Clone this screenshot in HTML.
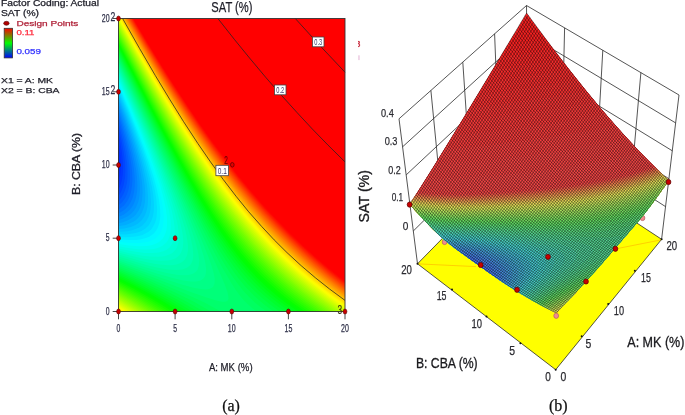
<!DOCTYPE html>
<html><head><meta charset="utf-8"><title>SAT (%) contour and 3D surface</title>
<style>
html,body{margin:0;padding:0;background:#fff;}
svg{display:block;}
text{font-family:"Liberation Sans",Arial,sans-serif;}
.ser{font-family:"Liberation Serif","Times New Roman",serif;}
</style></head><body>
<svg width="685" height="415" viewBox="0 0 685 415">
<rect width="685" height="415" fill="#fff"/>
<defs><linearGradient id="lg" x1="0" y1="0" x2="0" y2="1"><stop offset="0" stop-color="#ff0000"/><stop offset="0.5" stop-color="#00ff00"/><stop offset="1" stop-color="#0000ff"/></linearGradient></defs>

<text x="1.0" y="6.4" font-size="8.3" fill="#1e1e28" stroke="#1e1e28" stroke-width="0.25" textLength="98.0" lengthAdjust="spacingAndGlyphs">Factor Coding: Actual</text>
<text x="1.0" y="16.3" font-size="8.3" fill="#1e1e28" stroke="#1e1e28" stroke-width="0.25" textLength="38.0" lengthAdjust="spacingAndGlyphs">SAT (%)</text>
<ellipse cx="6.4" cy="23.3" rx="2.7" ry="2" fill="#b00000" stroke="#500" stroke-width="0.6"/>
<text x="16.4" y="25.8" font-size="8" fill="#b0243a" stroke="#b0243a" stroke-width="0.25" textLength="62.0" lengthAdjust="spacingAndGlyphs">Design Points</text>
<rect x="4.2" y="28.3" width="8.4" height="29.6" fill="url(#lg)" stroke="#333" stroke-width="0.8"/>
<text x="16.4" y="35.1" font-size="8" fill="#ff2a3c" stroke="#ff2a3c" stroke-width="0.25" textLength="18.0" lengthAdjust="spacingAndGlyphs">0.11</text>
<text x="16.4" y="54.4" font-size="8" fill="#3030ff" stroke="#3030ff" stroke-width="0.25" textLength="24.5" lengthAdjust="spacingAndGlyphs">0.059</text>
<text x="1.0" y="83.0" font-size="8" fill="#1e1e28" stroke="#1e1e28" stroke-width="0.25" textLength="52.0" lengthAdjust="spacingAndGlyphs">X1 = A: MK</text>
<text x="1.0" y="92.6" font-size="8" fill="#1e1e28" stroke="#1e1e28" stroke-width="0.25" textLength="58.5" lengthAdjust="spacingAndGlyphs">X2 = B: CBA</text>
<text x="211.3" y="12.3" font-size="14.5" fill="#1e1e28" stroke="#1e1e28" stroke-width="0.25" textLength="41.2" lengthAdjust="spacingAndGlyphs">SAT (%)</text>
<rect x="118.5" y="18.5" width="226.5" height="293.0" fill="#ff0000"/>
<path d="M118.5,311.5 345,311.5 345,281.1 330.8,269.8 316.7,257.8 302.5,245 289.8,232.7 277.1,219.8 264.3,206 251.6,191.4 238.8,176 226.1,159.7 213.3,142.6 200.6,124.7 187.9,106 175.1,86.5 162.4,66.4 148.2,43.4 133.4,18.5 118.5,18.5 118.5,311.5Z" fill="#ff0600"/>
<path d="M118.5,311.5 345,311.5 345,282.2 330.8,271 316.7,259 302.5,246.3 289.8,234.1 277.1,221.1 264.3,207.4 251.6,192.8 238.8,177.4 226.1,161.1 213.3,144 200.6,126 187.9,107.3 173.7,85.6 161,65.4 146.8,42.2 132.7,18.5 118.5,18.5 118.5,311.5Z" fill="#ff1300"/>
<path d="M118.5,311.5 345,311.5 345,283.4 330.8,272.2 316.7,260.3 302.5,247.6 289.8,235.4 277.1,222.5 264.3,208.8 251.6,194.2 238.8,178.8 226.1,162.5 213.3,145.3 200.6,127.4 187.9,108.6 175.1,89.1 161,66.7 146.8,43.5 132,18.5 118.5,18.5 118.5,311.5Z" fill="#ff2000"/>
<path d="M118.5,311.5 345,311.5 345,284.6 330.8,273.4 316.7,261.5 302.5,248.9 289.8,236.8 277.1,223.9 264.3,210.2 251.6,195.6 238.8,180.2 226.1,163.9 213.3,146.7 200.6,128.8 187.9,110 173.7,88.2 159.6,65.6 146.8,44.7 131.4,18.5 118.5,18.5 118.5,311.5Z" fill="#ff2d00"/>
<path d="M118.5,311.5 345,311.5 345,285.8 330.8,274.7 316.7,262.8 302.5,250.2 289.8,238.1 277.1,225.3 264.3,211.6 251.6,197 238.8,181.6 226.1,165.3 213.3,148.2 200.6,130.1 187.9,111.3 173.7,89.5 161,69.2 145.4,43.5 130.7,18.5 118.5,18.5 118.5,311.5Z" fill="#ff3900"/>
<path d="M118.5,311.5 345,311.5 345,287 330.8,275.9 316.7,264.1 302.5,251.6 289.8,239.5 277.1,226.7 264.3,213 251.6,198.5 238.8,183.1 226.1,166.8 213.3,149.6 200.6,131.5 187.9,112.7 175.1,93.1 161,70.5 145.4,44.8 130,18.5 118.5,18.5 118.5,311.5Z" fill="#ff4600"/>
<path d="M118.5,311.5 345,311.5 345,288.2 329.4,276 315.3,264.2 301.1,251.6 288.4,239.5 275.6,226.6 262.9,212.9 250.2,198.3 237.4,182.8 224.7,166.4 211.9,149.1 199.2,130.9 186.4,111.9 172.3,90 158.1,67.2 144,43.6 129.3,18.5 118.5,18.5 118.5,311.5Z" fill="#ff5300"/>
<path d="M118.5,311.5 345,311.5 345,289.4 329.4,277.3 315.3,265.5 302.5,254.3 288.4,240.9 275.6,228.1 262.9,214.4 250.2,199.8 237.4,184.3 224.7,167.8 211.9,150.5 199.2,132.3 186.4,113.3 172.3,91.3 158.1,68.5 144,44.8 128.6,18.5 118.5,18.5 118.5,311.5Z" fill="#ff6000"/>
<path d="M118.5,311.5 345,311.5 345,290.6 330.8,279.7 315.3,266.9 301.1,254.4 288.4,242.3 275.6,229.5 262.9,215.8 250.2,201.3 237.4,185.8 224.7,169.3 211.9,152 199.2,133.8 186.4,114.7 172.3,92.7 158.1,69.8 142.6,43.7 128,18.5 118.5,18.5 118.5,311.5Z" fill="#ff6c00"/>
<path d="M118.5,311.5 345,311.5 345,291.9 326.6,277.6 311,264.6 295.5,250.6 279.9,235.4 264.3,218.9 250.2,202.8 236,185.5 221.8,167.1 211.9,153.5 200.6,137.3 189.3,120.5 178,103 166.6,85 153.9,64 127.3,18.5 118.5,18.5 118.5,311.5Z" fill="#ff7900"/>
<path d="M118.5,311.5 345,311.5 345,293.1 328,280.1 311,266 295.5,252 279.9,236.8 264.3,220.4 250.2,204.3 236,187 221.8,168.6 210.5,153 199.2,136.7 187.9,119.8 176.5,102.2 165.2,84 152.5,63 126.6,18.5 118.5,18.5 118.5,311.5Z" fill="#ff8600"/>
<path d="M118.5,311.5 345,311.5 345,294.4 328,281.4 312.4,268.6 296.9,254.8 281.3,239.8 267.1,225 251.6,207.5 237.4,190.4 223.3,172 211.9,156.5 200.6,140.3 189.3,123.4 178,105.8 166.6,87.7 153.9,66.7 141.2,45.1 125.9,18.5 118.5,18.5 118.5,311.5Z" fill="#ff9300"/>
<path d="M118.5,311.5 345,311.5 345,295.6 328,282.7 311,268.8 295.5,254.9 281.3,241.3 267.1,226.6 253,210.7 238.8,193.7 224.7,175.5 213.3,160 202,143.9 190.7,127 178,107.3 165.2,86.8 152.5,65.7 125.2,18.5 118.5,18.5 118.5,311.5Z" fill="#ff9f00"/>
<path d="M118.5,311.5 345,311.5 345,296.9 326.6,283 311,270.2 296.9,257.7 281.3,242.8 267.1,228.2 253,212.3 238.8,195.3 224.7,177.1 213.3,161.6 202,145.4 190.7,128.5 178,108.7 165.2,88.2 152.5,67 138.3,42.8 124.5,18.5 118.5,18.5 118.5,311.5Z" fill="#ffac00"/>
<path d="M118.5,311.5 345,311.5 345,298.2 328,285.5 311,271.7 295.5,257.9 281.3,244.4 267.1,229.8 253,214 240.2,198.7 226.1,180.6 214.8,165.2 203.4,149 192.1,132.2 179.4,112.4 166.6,91.9 152.5,68.4 138.3,44.1 123.8,18.5 118.5,18.5 118.5,311.5Z" fill="#ffb900"/>
<path d="M118.5,311.5 345,311.5 345,299.5 328,286.8 312.4,274.3 296.9,260.7 282.7,247.3 268.6,232.9 254.4,217.2 240.2,200.3 227.5,184.1 216.2,168.8 203.4,150.6 190.7,131.6 179.4,113.9 165.2,91.1 152.5,69.7 138.3,45.4 123.1,18.5 118.5,18.5 118.5,311.5Z" fill="#ffc600"/>
<path d="M118.5,311.5 345,311.5 345,300.8 328,288.2 312.4,275.8 296.9,262.3 282.7,248.9 268.6,234.5 254.4,218.9 240.2,202 227.5,185.7 214.8,168.4 203.4,152.2 190.7,133.1 178,113.2 165.2,92.5 151.1,68.7 138.3,46.7 122.4,18.5 118.5,18.5 118.5,311.5Z" fill="#ffd200"/>
<path d="M118.7,311.5 345,311.5 345,302.1 328,289.6 312.4,277.3 298.3,265.1 282.7,250.6 270,237.7 255.8,222.2 241.7,205.5 228.9,189.3 216.2,172.1 204.9,155.9 192.1,136.9 179.4,117 166.6,96.3 152.5,72.5 136.9,45.5 121.7,18.5 118.5,18.5 118.5,311.4 118.7,311.5Z" fill="#ffdf00"/>
<path d="M118.5,309.7 118.5,310.1 120.6,311.5 345,311.5 345,303.5 328,291.1 312.4,278.8 296.9,265.4 282.7,252.2 268.6,237.9 255.8,223.9 241.7,207.2 228.9,191 217.6,175.7 204.9,157.6 192.1,138.5 179.4,118.5 166.6,97.8 152.5,74 136.9,46.9 121,18.5 118.5,18.5 118.5,309.7Z" fill="#ffec00"/>
<path d="M119.7,309.7 122.5,311.5 345,311.5 345,304.8 329.4,293.6 313.9,281.4 299.7,269.5 287,257.9 274.2,245.4 261.5,232 248.7,217.5 236,201.9 224.7,187.1 211.9,169.5 200.6,153 187.9,133.6 172.3,108.7 155.3,80.2 138.3,50.7 120.3,18.5 118.5,18.5 118.5,308.9 119.7,309.7Z" fill="#fff900"/>
<path d="M121.7,309.7 124.5,311.5 345,311.5 345,306.2 328,294 313.9,283 301.1,272.4 287,259.6 274.2,247.2 261.5,233.7 248.7,219.2 236,203.7 224.7,188.9 211.9,171.2 199.2,152.6 186.4,133 170.9,107.9 155.3,81.7 138.3,52.1 119.6,18.5 118.5,18.5 118.5,307.6 121.7,309.7Z" fill="#f9ff00"/>
<path d="M123.7,309.7 126.5,311.5 345,311.5 345,307.6 329.4,296.5 313.9,284.5 299.7,272.8 285.5,260 272.8,247.5 260.1,234 247.3,219.4 234.6,203.7 221.8,186.8 209.1,168.9 196.4,150 182.2,127.9 169.5,107.1 155.3,83.2 136.9,51 118.9,18.5 118.5,18.5 118.5,306.3 123.7,309.7Z" fill="#ecff00"/>
<path d="M125.7,309.7 128.5,311.5 345,311.5 345,309 329.4,298 313.9,286.1 299.7,274.4 285.5,261.7 272.8,249.3 260.1,235.8 247.3,221.2 234.6,205.5 221.8,188.7 209.1,170.7 196.4,151.7 182.2,129.6 166.6,104 152.5,79.8 136.9,52.4 118.5,19 118.5,305 125.7,309.7Z" fill="#dfff00"/>
<path d="M127.8,309.7 130.6,311.5 345,311.5 345,310.4 328,298.5 312.4,286.6 299.7,276.1 285.5,263.4 272.8,251.1 260.1,237.6 247.3,223.1 234.6,207.4 221.8,190.5 209.1,172.5 196.4,153.5 182.2,131.2 168,107.9 152.5,81.3 136.9,53.8 118.5,20.3 118.5,303.7 127.8,309.7Z" fill="#d2ff00"/>
<path d="M129.9,309.7 132.7,311.5 344.6,311.5 328,300 312.4,288.2 299.7,277.8 285.5,265.2 272.8,252.9 260.1,239.5 247.3,225 234.6,209.3 221.8,192.4 209.1,174.4 196.4,155.3 182.2,132.9 168,109.6 152.5,82.8 135.5,52.7 118.5,21.6 118.5,302.4 129.9,309.7Z" fill="#c6ff00"/>
<path d="M132.1,309.7 134.9,311.5 342.4,311.5 325.2,299.5 311,288.8 296.9,277.1 282.7,264.4 270,251.9 257.2,238.3 245.9,225.3 233.2,209.4 221.8,194.3 209.1,176.3 196.4,157.1 182.2,134.7 168,111.2 152.5,84.4 135.5,54.1 118.5,23 118.5,301.1 132.1,309.7Z" fill="#b9ff00"/>
<path d="M134.3,309.7 137.1,311.5 340.2,311.5 323.8,300 309.6,289.3 295.5,277.7 282.7,266.3 270,253.9 257.2,240.3 244.5,225.6 233.2,211.4 221.8,196.3 209.1,178.2 196.4,159 182.2,136.4 168,112.9 152.5,85.9 136.9,58.1 118.5,24.3 118.5,299.7 134.3,309.7Z" fill="#acff00"/>
<path d="M136.6,309.7 139.4,311.5 337.9,311.5 322.4,300.6 308.2,290 294,278.3 281.3,266.9 268.6,254.4 255.8,240.8 243.1,225.9 231.8,211.6 220.4,196.4 207.7,178.1 194.9,158.7 180.8,135.9 168,114.6 152.5,87.5 136.9,59.6 118.5,25.7 118.5,298.4 136.6,309.7Z" fill="#9fff00"/>
<path d="M138.9,309.7 141.7,311.5 335.6,311.5 320.9,301.3 306.8,290.6 292.6,279 279.9,267.5 267.1,255 255.8,242.8 243.1,228 231.8,213.7 220.4,198.4 207.7,180.1 194.9,160.6 182.2,140.1 168,116.3 152.5,89.1 136.9,61.1 118.5,27 118.5,297 138.9,309.7Z" fill="#93ff00"/>
<path d="M141.3,309.7 144.1,311.5 333.2,311.5 318.1,300.9 303.9,290.2 291.2,279.7 278.5,268.2 265.7,255.6 254.4,243.4 243.1,230.1 230.3,214 219,198.5 206.3,180 193.5,160.3 180.8,139.6 168,118.1 152.5,90.7 135.5,60 118.5,28.4 118.5,295.6 141.3,309.7Z" fill="#86ff00"/>
<path d="M143.7,309.7 146.5,311.5 330.8,311.5 316.7,301.7 302.5,290.9 288.4,279.2 277.1,268.9 264.3,256.3 253,244 241.7,230.6 230.3,216.2 219,200.7 206.3,182.1 193.5,162.3 180.8,141.5 168,119.8 152.5,92.4 135.5,61.5 118.5,29.8 118.5,294.2 131.2,301.8 143.7,309.7Z" fill="#79ff00"/>
<path d="M146.2,309.7 149,311.5 328.3,311.5 313.9,301.4 299.7,290.6 287,280 274.2,268.3 262.9,257 251.6,244.6 240.2,231.1 228.9,216.5 217.6,200.9 206.3,184.2 193.5,164.3 180.8,143.4 168,121.6 152.5,94.1 135.5,63 118.5,31.2 118.5,292.8 132.7,301.2 146.2,309.7Z" fill="#6cff00"/>
<path d="M148.7,309.7 151.6,311.5 325.8,311.5 311,301.2 298.3,291.5 285.5,280.9 274.2,270.5 262.9,259.2 251.6,246.9 240.2,233.5 228.9,218.9 217.6,203.1 206.3,186.4 193.5,166.4 180.8,145.4 168,123.5 152.5,95.8 136.9,67.2 118.5,32.7 118.5,291.4 135.5,301.4 148.7,309.7Z" fill="#60ff00"/>
<path d="M151.4,309.7 154.2,311.5 323.1,311.5 308.2,301 295.5,291.3 282.7,280.5 271.4,270.1 260.1,258.6 248.7,246 238.8,234.1 227.5,219.3 216.2,203.4 204.9,186.4 193.5,168.5 180.8,147.4 168,125.4 152.5,97.5 136.9,68.8 118.5,34.1 118.5,290 135.5,299.8 151.4,309.7Z" fill="#53ff00"/>
<path d="M154.1,309.7 156.9,311.5 320.4,311.5 306.8,302 294,292.2 281.3,281.5 270,271 258.6,259.5 247.3,246.8 236,233 226.1,219.8 214.8,203.7 203.4,186.5 192.1,168.4 179.4,147 165.2,122.3 151.1,96.7 135.5,67.8 118.5,35.6 118.5,288.5 136.9,299 154.1,309.7Z" fill="#46ff00"/>
<path d="M156.9,309.7 159.8,311.5 317.6,311.5 303.9,302 291.2,292.2 279.9,282.6 268.6,272.1 257.2,260.5 247.3,249.4 237.4,237.3 226.1,222.3 216.2,208.2 204.9,191.1 193.5,172.9 179.4,149.1 165.2,124.2 151.1,98.5 135.5,69.4 118.5,37 118.5,287 138.3,298.2 156.9,309.7Z" fill="#39ff00"/>
<path d="M159.9,309.7 162.7,311.5 314.6,311.5 301.1,302 288.4,292.2 277.1,282.5 265.7,271.9 255.8,261.6 244.5,248.7 234.6,236.3 224.7,223 214.8,208.7 203.4,191.3 192.1,172.9 179.4,151.2 165.2,126.2 151.1,100.3 118.5,38.5 118.5,285.5 139.7,297.4 159.9,309.7Z" fill="#2dff00"/>
<path d="M162.9,309.7 165.7,311.5 311.6,311.5 299.7,303.2 287,293.4 275.6,283.8 265.7,274.5 254.4,262.8 244.5,251.4 234.6,239.1 224.7,225.7 214.8,211.3 203.4,193.8 192.1,175.3 179.4,153.4 166.6,130.7 151.1,102.1 118.5,40 118.5,284 142.6,297.3 162.9,309.7Z" fill="#20ff00"/>
<path d="M166.1,309.7 168.9,311.5 308.4,311.5 296.9,303.4 284.1,293.6 274.2,285.1 262.9,274.4 253,264.1 243.1,252.6 233.2,240.1 223.3,226.5 213.3,211.9 202,194.1 190.7,175.3 179.4,155.7 166.6,132.8 151.1,104 118.5,41.6 118.5,282.5 144,296.3 155.3,303 166.1,309.7Z" fill="#13ff00"/>
<path d="M169.4,309.7 172.2,311.5 305.1,311.5 292.6,302.7 281.3,293.9 271.4,285.3 261.5,275.9 251.6,265.5 241.7,253.9 233.2,243.1 223.3,229.4 213.3,214.7 202,196.8 192.1,180.2 179.4,158 166.6,134.9 152.5,108.5 118.5,43.1 118.5,280.9 132.7,288.3 146.8,296.1 159.6,303.5 169.4,309.7Z" fill="#06ff00"/>
<path d="M172.9,309.7 175.8,311.5 301.6,311.5 289.8,303.2 278.5,294.3 268.6,285.7 258.6,276.1 250.2,267 240.2,255.3 231.8,244.4 221.8,230.5 211.9,215.5 202,199.5 190.7,180.4 179.4,160.4 166.6,137.1 152.5,110.5 118.5,44.7 118.5,279.4 135.5,288.1 149.6,295.8 162.4,303.1 172.9,309.7Z" fill="#00ff06"/>
<path d="M176.6,309.7 179.5,311.5 297.8,311.5 287,303.8 277.1,296.1 267.1,287.5 257.2,277.9 248.7,268.8 240.2,258.7 231.8,247.7 221.8,233.7 211.9,218.5 202,202.4 190.7,183 179.4,162.8 165.2,136.7 152.5,112.5 118.5,46.3 118.5,277.8 135.5,286.3 151.1,294.6 163.8,301.8 176.6,309.7Z" fill="#00ff13"/>
<path d="M180.6,309.7 183.4,311.5 293.9,311.5 282.7,303.6 272.8,295.7 262.9,286.9 254.4,278.5 245.9,269.1 237.4,258.7 228.9,247.3 220.4,235 210.5,219.5 200.6,203.1 190.7,185.8 179.4,165.4 152.5,114.6 118.5,47.9 118.5,276.1 136.9,285.2 153.9,294.1 168,302 180.6,309.7Z" fill="#00ff20"/>
<path d="M184.9,309.7 187.7,311.5 289.6,311.5 279.9,304.6 270,296.7 261.5,289.2 253,280.8 244.5,271.3 237.4,262.6 228.9,251.1 220.4,238.6 211.9,225.2 202,208.7 192.1,191.3 179.4,168 152.5,116.7 118.5,49.5 118.5,274.5 136.9,283.3 155.3,292.7 170.9,301.2 184.9,309.7Z" fill="#00ff2d"/>
<path d="M189.5,309.7 192.4,311.5 284.9,311.5 275.6,304.9 267.1,298.1 258.6,290.5 250.2,281.9 241.7,272.1 234.6,263.1 227.5,253.2 219,240.4 210.5,226.6 202,212.1 190.7,191.8 180.8,173.4 153.9,121.6 118.5,51.2 118.5,272.8 141.2,283.5 159.6,292.7 175.1,301.1 189.5,309.7Z" fill="#00ff39"/>
<path d="M194.7,309.7 197.6,311.5 279.7,311.5 270,304.4 261.5,297.4 254.4,290.8 247.3,283.4 240.2,275.1 233.2,265.8 226.1,255.6 219,244.6 210.5,230.5 202,215.7 182.2,179 153.9,123.8 118.5,52.9 118.5,271.2 144,282.8 163.8,292.4 180.8,301.4 194.7,309.7Z" fill="#00ff46"/>
<path d="M200.6,309.7 203.5,311.5 273.8,311.5 265.7,305.7 258.6,299.8 253,294.6 245.9,287.2 238.8,278.7 233.2,271.1 226.1,260.7 219,249.4 211.9,237.4 203.4,222.2 182.2,182.1 155.3,129 118.5,54.6 118.5,269.4 145.4,281.3 168,292 186.4,301.4 200.6,309.7Z" fill="#00ff53"/>
<path d="M207.8,309.7 210.7,311.5 266.6,311.5 260.1,306.7 254.4,302 248.7,296.6 243.1,290.4 237.4,283.3 231.8,275.4 226.1,266.7 219,254.9 211.9,242.3 203.4,226.6 183.6,188.1 155.3,131.4 118.5,56.3 118.5,267.7 151.1,281.6 175.1,292.5 193.5,301.6 207.8,309.7Z" fill="#00ff60"/>
<path d="M217.6,309.7 220.6,311.5 256.7,311.5 253,308.7 248.7,305.1 244.5,300.9 240.2,295.9 236,290.2 231.8,283.8 221.8,266.7 209.1,242.6 190.7,206 163.8,151.3 118.5,58.1 118.5,265.9 159.6,282.8 186.4,294.3 204.9,302.8 217.6,309.7Z" fill="#00ff6c"/>
<path d="M216.3,300.5 221.8,301.7 224.7,301.8 226.1,301.6 227.8,300.5 228.5,298.7 228.2,295 227.3,291.4 224.6,284 215.9,263.9 200.5,230.9 118.5,59.9 118.5,264.1 189.3,291.4 204.9,296.9 216.3,300.5Z" fill="#00ff79"/>
<path d="M193.4,287.7 200.6,289 206.3,289.4 209.1,289 210.5,288.5 212.1,287.7 213.3,286.4 214.4,284 214.7,282.2 214.7,278.5 213.7,273 211.6,265.7 207.6,254.7 203.2,243.7 187.9,208.9 162.3,154 118.5,61.8 118.5,262.3 142.6,271.2 163.8,278.7 180.8,284.3 193.4,287.7Z" fill="#00ff86"/>
<path d="M182.9,280.4 190.7,281.4 196.4,281.4 200.6,280.4 202,279.6 203.4,278.5 204.7,276.7 205.5,274.9 205.9,273 206.1,269.4 205.8,265.7 205.2,262.1 203.3,254.7 199.7,243.7 194.8,230.9 188,214.4 179.2,194.3 155,141.2 118.5,63.6 118.5,260.4 138.8,267.6 156.7,273.4 170.9,277.6 182.9,280.4Z" fill="#00ff93"/>
<path d="M177.7,274.9 185,275.3 187.9,275.1 190.7,274.5 193.5,273.4 194.9,272.5 196.4,271.2 197.6,269.4 198.8,265.7 199.2,260.2 198.2,252.9 196,243.7 192.5,232.8 187.8,219.9 181.2,203.5 173.3,185.1 151.2,135.7 118.5,65.5 118.5,258.5 139.7,265.5 153.9,269.7 166.6,272.9 177.7,274.9Z" fill="#00ff9f"/>
<path d="M168,269.4 176.5,269.9 182.3,269.4 185,268.6 187.3,267.6 189.3,266 190.7,264.4 192,262.1 192.6,260.2 193,258.4 193.3,254.7 192.7,247.4 190.8,238.2 187.6,227.3 183.2,214.4 176.8,198 169.2,179.7 148.2,132 118.5,67.5 118.5,256.6 135.5,261.8 148.2,265.4 158.1,267.7 168,269.4Z" fill="#00ffac"/>
<path d="M155.4,263.9 165.2,265.1 169.5,265.2 173.7,264.9 176.5,264.4 179.4,263.5 182.1,262.1 183.6,260.8 185,259.2 186.5,256.6 187.2,254.7 187.9,251.1 188,247.4 187.8,243.7 186.7,236.4 184.6,227.3 180.6,214.4 175.4,199.8 168.2,181.5 159.8,161.3 148.6,135.7 118.5,69.5 118.5,254.6 138.3,260.2 146.8,262.2 155.4,263.9Z" fill="#00ffb9"/>
<path d="M153,260.2 161,260.8 168,260.5 170.9,260 173.7,259.1 175.2,258.4 178,256.6 179.7,254.7 180.9,252.9 182.2,249.8 182.8,247.4 183.2,243.7 183.2,240.1 182.9,236.4 182.1,230.9 179.6,219.9 176.3,208.9 171.2,194.3 164.2,176 155.9,155.8 145.7,132 118.5,71.5 118.5,252.6 138.3,257.6 145.4,259 153,260.2Z" fill="#00ffc6"/>
<path d="M149.8,256.6 158.1,256.8 162.4,256.5 165.2,256 168,255.1 170.9,253.8 172.3,252.9 174.3,251.1 175.8,249.2 176.8,247.4 178,244.1 178.4,241.9 178.8,238.2 178.8,234.6 177.8,225.4 175.3,214.4 172.2,203.5 167.2,188.8 161,172.3 153.7,154 143.6,130.2 118.5,73.6 118.5,250.5 128.4,252.9 136.9,254.7 144,255.9 149.8,256.6Z" fill="#00ffd2"/>
<path d="M144.8,252.9 152.5,253.1 156.7,252.8 159.6,252.3 162.4,251.6 165.2,250.4 167.3,249.2 169.5,247.4 171.1,245.6 172.3,243.5 173.6,240.1 174.1,238.2 174.6,234.6 174.7,230.9 174.6,227.3 173.9,221.8 172.2,212.6 168.7,199.8 163.9,185.1 157.9,168.7 150.7,150.3 141.6,128.4 118.5,75.7 118.5,248.4 132.7,251.3 144.8,252.9Z" fill="#00ffdf"/>
<path d="M137.5,249.2 146.8,249.6 153.9,249 156.7,248.3 159.6,247.3 162.9,245.6 165.1,243.7 166.8,241.9 168,239.9 169.5,236.6 170,234.6 170.6,230.9 170.8,227.3 170.5,219.9 169,210.8 165.9,198 162,185.1 156.2,168.7 149.2,150.3 141.1,130.2 131,106.4 118.5,77.9 118.5,246.2 128.4,248.1 137.5,249.2Z" fill="#00ffec"/>
<path d="M129.1,245.6 138.3,246.3 146.8,246 151.1,245.2 153.9,244.4 156.7,243.2 159,241.9 161.2,240.1 162.8,238.2 164,236.4 165.7,232.8 166.6,229.1 167,225.4 167,218.1 165.9,208.9 163.5,198 160,185.1 154.5,168.7 147.7,150.3 139.8,130.2 129.9,106.4 118.5,80.1 118.5,244 129.1,245.6Z" fill="#00fff9"/>
<path d="M120.2,241.9 131.2,243 139.7,243 144,242.6 147.3,241.9 151.1,240.7 153.9,239.3 155.5,238.2 158.1,235.9 159.6,234.1 161.3,230.9 162.6,227.3 163.3,223.6 163.7,216.3 162.8,207.1 160.7,196.1 157.4,183.3 152.8,168.7 146.2,150.3 138.5,130.2 129.5,108.2 118.5,82.4 118.5,241.7 120.2,241.9Z" fill="#00f9ff"/>
<path d="M128.4,240.1 136.9,239.9 141.2,239.3 144,238.6 146.8,237.7 149.6,236.4 152.4,234.6 153.9,233.2 155.9,230.9 157,229.1 158.1,226.8 159.2,223.6 159.9,219.9 160.3,216.3 160.1,208.9 159,199.8 156.7,188.8 153.8,177.8 149.2,163.2 143.4,146.7 136.4,128.4 128.3,108.2 118.5,84.8 118.5,239.3 128.4,240.1Z" fill="#00ecff"/>
<path d="M118.5,236.4 118.5,236.9 125.6,237.2 131.2,237.1 135.5,236.6 139.7,235.8 142.6,234.9 145.4,233.6 148.2,231.9 151.1,229.4 152.5,227.6 154.7,223.6 156,219.9 156.7,216.3 157.1,208.9 156.4,199.8 154.9,190.6 152.3,179.7 148.1,165 142.6,148.5 135.8,130.2 127.9,110.1 118.5,87.2 118.5,236.4Z" fill="#00dfff"/>
<path d="M118.5,232.8 118.5,234.3 125.6,234.4 132.7,233.6 136.6,232.8 139.7,231.7 142.6,230.3 145.4,228.5 148.5,225.4 149.8,223.6 151.7,219.9 152.9,216.3 153.6,212.6 154,205.3 153.4,196.1 151.9,187 149.4,176 145.2,161.3 140.4,146.7 134.5,130.2 126.7,110.1 118.5,89.7 118.5,232.8Z" fill="#00d2ff"/>
<path d="M118.5,230.9 118.5,231.7 121.3,231.7 127,231.2 131.2,230.4 136.9,228.6 139.7,227.2 142.6,225.2 145.8,221.8 147,219.9 148.8,216.3 149.9,212.6 150.6,208.9 151,201.6 150.4,192.5 149,183.3 146.5,172.3 142.9,159.5 138.3,144.9 133.1,130.2 127,113.7 118.5,92.3 118.5,230.9Z" fill="#00c6ff"/>
<path d="M118.5,227.3 118.5,229 124.2,228.5 129.8,227.2 132.7,226.3 135.5,225 138.3,223.2 141.2,220.7 143.3,218.1 144.4,216.3 145.4,214.3 146.6,210.8 147.7,205.3 148.1,198 147.5,188.8 146.1,179.7 143.7,168.7 140.7,157.7 136.8,144.9 131.8,130.2 125.7,113.7 118.5,95.1 118.5,227.3Z" fill="#00b9ff"/>
<path d="M118.5,225.4 118.5,226.2 121.3,225.8 125.6,224.9 129.5,223.6 134.1,221.3 136,219.9 138.3,217.8 139.7,216.1 141.9,212.6 144,207.1 145,201.6 145.3,194.3 144.9,187 143.6,177.8 141.4,166.8 138.5,155.8 134.7,143 130.4,130.2 125.2,115.6 118.5,97.9 118.5,225.4Z" fill="#00acff"/>
<path d="M118.5,221.8 118.5,223.2 122.7,222.3 127,220.8 131.9,218.1 134.1,216.3 135.9,214.4 138.5,210.8 139.7,208.3 140.9,205.3 142.1,199.8 142.6,192.5 142.3,185.1 141.2,176 139.5,166.8 136.8,155.8 133.7,144.9 129.6,132 124.6,117.4 118.5,100.8 118.5,221.8Z" fill="#009fff"/>
<path d="M118.5,219.9 118.5,220.1 119.1,219.9 122.7,218.8 127.8,216.3 131.2,213.7 134.1,210.6 136.2,207.1 138.4,201.6 139.5,196.1 140,188.8 139.7,181.5 138.5,172.3 136.8,163.2 134.6,154 131.6,143 128.2,132 124,119.2 118.5,104 118.5,219.9Z" fill="#0093ff"/>
<path d="M118.5,216.3 118.5,216.8 121.3,215.7 124.2,214.3 126.7,212.6 129.8,209.8 132.7,206 134.8,201.6 136.4,196.1 137.2,190.6 137.4,185.1 137,177.8 136.2,170.5 134.9,163.2 132.9,154 130.1,143 126.8,132 118.5,107.2 118.5,216.3Z" fill="#0086ff"/>
<path d="M118.5,212.6 118.5,213.3 120,212.6 122.7,211 125.4,208.9 128.8,205.3 131,201.6 132.7,197.7 134,192.5 134.7,187 134.9,181.5 134.6,176 133.9,168.7 132.7,161.3 130.8,152.2 125.9,133.9 118.5,110.7 118.5,212.6Z" fill="#0079ff"/>
<path d="M118.5,208.9 118.5,209.5 119.9,208.7 122,207.1 124.2,205.2 127,201.6 129,198 130.4,194.3 131.3,190.6 132.1,185.1 132.4,179.7 132.3,174.2 131.6,166.8 130.5,159.5 129,152.2 126.9,143 124.4,133.9 118.5,114.5 118.5,208.9Z" fill="#006cff"/>
<path d="M118.5,205.3 119.9,204.3 122.7,201.5 125.2,198 127,194.3 128.4,190 129.4,185.1 129.8,181.5 130,176 129.8,170.5 129.3,165 127.3,152.2 123.9,137.5 118.5,118.6 118.5,205.3Z" fill="#0060ff"/>
<path d="M118.5,199.8 118.5,201 121.3,197.7 123.4,194.3 125,190.6 126.1,187 126.9,183.3 127.4,179.7 127.6,174.2 127.5,168.7 127.1,163.2 125.5,152.2 122.8,139.4 118.5,123.1 118.5,199.8Z" fill="#0053ff"/>
<path d="M118.5,194.3 118.5,195.9 120.7,192.5 122.4,188.8 123.6,185.1 125,177.8 125.3,170.5 124.9,161.3 123.7,152.2 121.6,141.2 118.5,128.2 118.5,194.3Z" fill="#0046ff"/>
<path d="M118.5,188.8 118.5,189.8 119.9,186.8 121.1,183.3 122,179.7 122.8,174.2 123.1,166.8 122.7,159.5 121.9,152.2 120.4,143 118.5,134.2 118.5,188.8Z" fill="#0039ff"/>
<path d="M118.5,181.5 118.5,182.1 119.2,179.7 120.3,174.2 120.7,170.5 120.9,165 120.2,154 118.5,142 118.5,181.5Z" fill="#002dff"/>
<path d="M118.5,166.8 118.7,161.3 118.5,156.5 118.5,166.8Z" fill="#0020ff"/>
<path d="M122.6,18.5 139.7,48.7 155.3,75.5 169.5,99 183.6,121.7 197.8,143.4 210.5,161.9 223.3,179.6 236,196.2 248.7,211.8 261.5,226.3 274.2,239.9 287,252.6 301.1,265.6 315.3,277.7 329.4,288.9 345,300.4" fill="none" stroke="#222" stroke-width="0.75"/>
<path d="M217.9,18.5 234.6,39.7 250.2,58.8 265.7,77.3 281.3,95.2 296.9,112.4 312.4,129.1 328,145.1 345,161.9" fill="none" stroke="#222" stroke-width="0.75"/>
<path d="M295.3,18.5 319.5,45.2 345,72.2" fill="none" stroke="#222" stroke-width="0.75"/>
<rect x="118.5" y="18.5" width="226.5" height="293.0" fill="none" stroke="#333" stroke-width="0.9"/>
<g stroke="#333" stroke-width="0.9">
<line x1="118.5" y1="311.5" x2="118.5" y2="319.3"/>
<line x1="112.7" y1="311.5" x2="118.5" y2="311.5"/>
<line x1="175.1" y1="311.5" x2="175.1" y2="319.3"/>
<line x1="112.7" y1="238.2" x2="118.5" y2="238.2"/>
<line x1="231.8" y1="311.5" x2="231.8" y2="319.3"/>
<line x1="112.7" y1="165.0" x2="118.5" y2="165.0"/>
<line x1="288.4" y1="311.5" x2="288.4" y2="319.3"/>
<line x1="112.7" y1="91.8" x2="118.5" y2="91.8"/>
<line x1="345.0" y1="311.5" x2="345.0" y2="319.3"/>
<line x1="112.7" y1="18.5" x2="118.5" y2="18.5"/>
</g>
<text x="116.6" y="331.5" font-size="10.2" fill="#2e3048" stroke="#2e3048" stroke-width="0.25" textLength="3.8" lengthAdjust="spacingAndGlyphs">0</text>
<text x="105.8" y="314.6" font-size="10.2" fill="#2e3048" stroke="#2e3048" stroke-width="0.25" textLength="3.8" lengthAdjust="spacingAndGlyphs">0</text>
<text x="173.2" y="331.5" font-size="10.2" fill="#2e3048" stroke="#2e3048" stroke-width="0.25" textLength="3.8" lengthAdjust="spacingAndGlyphs">5</text>
<text x="105.8" y="241.3" font-size="10.2" fill="#2e3048" stroke="#2e3048" stroke-width="0.25" textLength="3.8" lengthAdjust="spacingAndGlyphs">5</text>
<text x="227.8" y="331.5" font-size="10.2" fill="#2e3048" stroke="#2e3048" stroke-width="0.25" textLength="7.8" lengthAdjust="spacingAndGlyphs">10</text>
<text x="101.8" y="168.1" font-size="10.2" fill="#2e3048" stroke="#2e3048" stroke-width="0.25" textLength="7.8" lengthAdjust="spacingAndGlyphs">10</text>
<text x="284.5" y="331.5" font-size="10.2" fill="#2e3048" stroke="#2e3048" stroke-width="0.25" textLength="7.8" lengthAdjust="spacingAndGlyphs">15</text>
<text x="101.8" y="94.8" font-size="10.2" fill="#2e3048" stroke="#2e3048" stroke-width="0.25" textLength="7.8" lengthAdjust="spacingAndGlyphs">15</text>
<text x="341.1" y="331.5" font-size="10.2" fill="#2e3048" stroke="#2e3048" stroke-width="0.25" textLength="7.8" lengthAdjust="spacingAndGlyphs">20</text>
<text x="101.8" y="21.6" font-size="10.2" fill="#2e3048" stroke="#2e3048" stroke-width="0.25" textLength="7.8" lengthAdjust="spacingAndGlyphs">20</text>
<rect x="215.9" y="165.3" width="12.7" height="10.4" fill="#fff" stroke="#444" stroke-width="0.8"/>
<text x="217.7" y="173.8" font-size="9.5" fill="#3a3a6a" textLength="9.1" lengthAdjust="spacingAndGlyphs">0.1</text>
<rect x="274.5" y="85.0" width="11.5" height="9.8" fill="#fff" stroke="#444" stroke-width="0.8"/>
<text x="276.3" y="92.9" font-size="9.5" fill="#3a3a6a" textLength="7.9" lengthAdjust="spacingAndGlyphs">0.2</text>
<rect x="312.5" y="37.0" width="11.5" height="9.8" fill="#fff" stroke="#444" stroke-width="0.8"/>
<text x="314.3" y="44.9" font-size="9.5" fill="#3a3a6a" textLength="7.9" lengthAdjust="spacingAndGlyphs">0.3</text>
<ellipse cx="118.5" cy="18.5" rx="1.9" ry="2.5" fill="#c80000" stroke="#5a0000" stroke-width="0.6"/>
<ellipse cx="118.5" cy="91.8" rx="1.9" ry="2.5" fill="#c80000" stroke="#5a0000" stroke-width="0.6"/>
<ellipse cx="118.5" cy="165.0" rx="1.9" ry="2.5" fill="#c80000" stroke="#5a0000" stroke-width="0.6"/>
<ellipse cx="118.5" cy="238.2" rx="1.9" ry="2.5" fill="#c80000" stroke="#5a0000" stroke-width="0.6"/>
<ellipse cx="118.5" cy="311.5" rx="1.9" ry="2.5" fill="#c80000" stroke="#5a0000" stroke-width="0.6"/>
<ellipse cx="175.1" cy="238.2" rx="1.9" ry="2.5" fill="#c80000" stroke="#5a0000" stroke-width="0.6"/>
<ellipse cx="175.1" cy="311.5" rx="1.9" ry="2.5" fill="#c80000" stroke="#5a0000" stroke-width="0.6"/>
<ellipse cx="231.8" cy="311.5" rx="1.9" ry="2.5" fill="#c80000" stroke="#5a0000" stroke-width="0.6"/>
<ellipse cx="288.4" cy="311.5" rx="1.9" ry="2.5" fill="#c80000" stroke="#5a0000" stroke-width="0.6"/>
<ellipse cx="345.0" cy="311.5" rx="1.9" ry="2.5" fill="#c80000" stroke="#5a0000" stroke-width="0.6"/>
<ellipse cx="232.3" cy="164.8" rx="1.8" ry="2.3" fill="#e00000" stroke="#700000" stroke-width="0.9"/>
<text x="110.5" y="20.6" font-size="12.5" fill="#2e3048" stroke="#2e3048" stroke-width="0.25" textLength="4.8" lengthAdjust="spacingAndGlyphs">2</text>
<text x="110.5" y="93.9" font-size="12.5" fill="#2e3048" stroke="#2e3048" stroke-width="0.25" textLength="4.8" lengthAdjust="spacingAndGlyphs">2</text>
<text x="224.2" y="164.4" font-size="10.5" fill="#6a0000" stroke="#6a0000" stroke-width="0.15" textLength="3.6" lengthAdjust="spacingAndGlyphs">2</text>
<text x="337.5" y="314.0" font-size="12.3" fill="#3a3a18" stroke="#3a3a18" stroke-width="0.1" textLength="4.7" lengthAdjust="spacingAndGlyphs">3</text>
<text x="208.9" y="371.0" font-size="11" fill="#1e1e28" stroke="#1e1e28" stroke-width="0.25" textLength="43.7" lengthAdjust="spacingAndGlyphs">A: MK (%)</text>
<text transform="translate(80.0,195) rotate(-90)" font-size="10.6" textLength="62" lengthAdjust="spacingAndGlyphs" fill="#1e1e28" stroke="#1e1e28" stroke-width="0.3">B: CBA (%)</text>
<text x="222.2" y="410.8" font-size="16" fill="#111" stroke="#111" stroke-width="0.25" class="ser">(a)</text>
<clipPath id="ca"><rect x="358" y="30" width="8" height="40"/></clipPath>
<g clip-path="url(#ca)"><text x="355.3" y="46.8" font-size="9.6" textLength="5.2" lengthAdjust="spacingAndGlyphs" fill="#c8283c" stroke="#c8283c" stroke-width="0.3">3</text><rect x="358.1" y="55.3" width="1.7" height="4.8" fill="#efd2e6"/></g>
<polygon points="555.7,369.7 417.5,263.8 527.8,151.3 661.6,239.3" fill="#ffff00"/>
<g stroke="#2a2a2a" stroke-width="0.8" fill="none">
<line x1="555.7" y1="369.7" x2="417.5" y2="263.8"/>
<line x1="555.7" y1="369.7" x2="661.6" y2="239.3"/>
<line x1="417.5" y1="263.8" x2="527.8" y2="151.3"/>
<line x1="527.8" y1="151.3" x2="661.6" y2="239.3"/>
<line x1="413.3" y1="231.0" x2="527.5" y2="118.3"/>
<line x1="527.5" y1="118.3" x2="665.5" y2="206.6"/>
<line x1="409.7" y1="202.9" x2="527.3" y2="90.1"/>
<line x1="527.3" y1="90.1" x2="668.9" y2="178.7"/>
<line x1="406.2" y1="174.9" x2="527.0" y2="61.9"/>
<line x1="527.0" y1="61.9" x2="672.3" y2="150.8"/>
<line x1="402.6" y1="146.8" x2="526.8" y2="33.7"/>
<line x1="526.8" y1="33.7" x2="675.6" y2="122.9"/>
<line x1="399.0" y1="118.8" x2="526.5" y2="5.5"/>
<line x1="526.5" y1="5.5" x2="679.0" y2="95.0"/>
<line x1="441.9" y1="202.8" x2="430.9" y2="90.5"/>
<line x1="631.0" y1="184.6" x2="640.9" y2="72.6"/>
<line x1="470.4" y1="174.6" x2="462.8" y2="62.2"/>
<line x1="596.5" y1="162.5" x2="602.8" y2="50.2"/>
<line x1="499.0" y1="146.5" x2="494.6" y2="33.8"/>
<line x1="562.0" y1="140.4" x2="564.6" y2="27.9"/>
<line x1="417.5" y1="263.8" x2="399.0" y2="118.8"/>
<line x1="661.6" y1="239.3" x2="679.0" y2="95.0"/>
<line x1="527.5" y1="118.3" x2="526.5" y2="5.5"/>
</g>
<path d="M418.5,263.9 L476,266.6 M616,248.8 L660.5,240" stroke="#ffc400" stroke-width="0.8" fill="none"/>
<ellipse cx="444.6" cy="242.0" rx="2.4" ry="2.6" fill="#f08a90" stroke="#b06060" stroke-width="0.7"/><ellipse cx="556.2" cy="315.8" rx="2.4" ry="2.6" fill="#f08a90" stroke="#b06060" stroke-width="0.7"/><ellipse cx="642.5" cy="218.0" rx="2.4" ry="2.6" fill="#f08a90" stroke="#b06060" stroke-width="0.7"/>
<path d="M556.2,312.9 544.5,306.9 532.8,300.5 521.4,293.7 510.1,286.7 502.7,281.8 491.7,274.3 455.6,248.4 448.5,243 445,240.1 437.9,233.9 427.4,223.3 409.9,204.6 434.9,164.9 460.5,123.3 489.8,74.7 526.6,13.1 549.1,43.6 567.4,67.5 585.4,90.1 603.1,111.4 620.6,131.3 637.8,150 648.2,160.6 655,167.4 668.7,180.5 655.8,198.4 647.9,209 642.6,215.8 634.5,225.4 606.8,257.7 592.4,274.1 574.6,293.6 556.2,312.9Z" fill="#f62222"/>
<path d="M556.2,312.9 573.9,294.4 591.7,274.9 606.1,258.5 635.9,223.8 643.3,214.9 649.9,206.4 668.7,180.5 654.2,166.6 638.7,150.9 623.2,134.2 607.5,116.5 591.6,97.7 574.7,76.7 557.4,54.5 538.6,29.6 514.5,33.4 483.1,85.9 456.9,129.2 432.8,168.2 409.9,204.6 427.4,223.3 436.2,232.2 445,240.1 454.7,247.8 490.8,273.6 500.9,280.6 510.1,286.7 521.4,293.7 532.8,300.5 544.5,306.9 556.2,312.9Z" fill="#f62222"/>
<path d="M556.2,312.9 573.9,294.4 591.7,274.9 606.1,258.5 635.9,223.8 643.3,214.9 649.9,206.4 668.7,180.5 655,167.4 640.4,152.7 625.8,137.1 611,120.5 596.1,103 580.1,83.4 563.8,62.8 545.9,39.3 507.4,45.3 478.7,93.2 454,133.8 431.4,170.5 409.9,204.6 427.4,223.3 436.2,232.2 445,240.1 454.7,247.8 490.8,273.6 500.9,280.6 510.1,286.7 521.4,293.7 532.8,300.5 544.5,306.9 556.2,312.9Z" fill="#f62525"/>
<path d="M556.2,312.9 573.9,294.4 591.7,274.9 606.1,258.5 635.9,223.8 643.3,214.9 649.9,206.4 668.7,180.5 655,167.4 641.3,153.6 627.5,139 613.6,123.5 599.6,107.2 584.5,89 569.3,69.8 553.4,49.2 500.2,57.4 474.3,100.5 451.2,138.5 430,172.7 409.9,204.6 427.4,223.3 436.2,232.2 445,240.1 454.7,247.8 490.8,273.6 500.9,280.6 510.1,286.7 521.4,293.7 532.8,300.5 544.5,306.9 556.2,312.9Z" fill="#f52929"/>
<path d="M556.2,312.9 573.9,294.4 591.7,274.9 606.1,258.5 635.9,223.8 643.3,214.9 649.9,206.4 668.7,180.5 655.9,168.3 643,155.4 630.1,141.8 617.1,127.4 604,112.4 589.9,95.5 575.6,77.8 561.1,59.3 524.5,65 492.8,69.8 469.2,109 448.3,143.1 428.6,175 409.9,204.6 427.4,223.3 436.2,232.2 445,240.1 454.7,247.8 490.8,273.6 500.9,280.6 510.1,286.7 521.4,293.7 532.8,300.5 544.5,306.9 556.2,312.9Z" fill="#f52c2c"/>
<path d="M556.2,312.9 573.9,294.4 591.7,274.9 606.1,258.5 635.9,223.8 643.3,214.9 649.9,206.4 668.7,180.5 656.7,169.1 644.7,157.1 632.7,144.5 620.6,131.3 608.4,117.5 595.2,101.9 582.7,86.8 569.1,69.5 523.5,76.7 485.3,82.3 445.5,147.8 427.2,177.2 409.9,204.6 427.4,223.3 436.2,232.2 445,240.1 454.7,247.8 490.8,273.6 500.9,280.6 510.1,286.7 521.4,293.7 532.8,300.5 544.5,306.9 556.2,312.9Z" fill="#f52f2f"/>
<path d="M556.2,312.9 573.9,294.4 591.7,274.9 606.1,258.5 635.9,223.8 643.3,214.9 649.9,206.4 668.7,180.5 658.4,170.8 647.3,159.8 636.1,148.2 624.9,136.1 613.6,123.5 601.3,109.3 589.9,95.5 577.4,80.1 524.6,88.4 499.3,92.1 477.6,95 441.9,153.5 409.9,204.6 427.4,223.3 436.2,232.2 445,240.1 454.7,247.8 490.8,273.6 500.9,280.6 510.1,286.7 521.4,293.7 532.8,300.5 544.5,306.9 556.2,312.9Z" fill="#f53232"/>
<path d="M556.2,312.9 573.9,294.4 591.7,274.9 606.1,258.5 635.9,223.8 643.3,214.9 649.9,206.4 668.7,180.5 659.3,171.6 649,161.5 638.7,150.9 628.4,139.9 618,128.4 607.5,116.5 586.1,90.9 556.7,95.8 524.6,100.7 496.1,104.7 469.8,108 438.4,159.2 409.9,204.6 427.4,223.3 436.2,232.2 445,240.1 454.7,247.8 490.8,273.6 500.9,280.6 510.1,286.7 521.4,293.7 532.8,300.5 544.5,306.9 556.2,312.9Z" fill="#f43636"/>
<path d="M556.2,312.9 573.9,294.4 591.7,274.9 606.1,258.5 635.9,223.8 643.3,214.9 649.9,206.4 668.7,180.5 660.2,172.4 650.7,163.2 632.7,144.5 614.5,124.5 595.2,102 563.4,107.5 526.8,113.1 493.4,117.6 461.7,121.3 434.9,164.9 409.9,204.6 427.4,223.3 436.2,232.2 445,240.1 454.7,247.8 490.8,273.6 500.9,280.6 510.1,286.7 521.4,293.7 532.8,300.5 544.5,306.9 556.2,312.9Z" fill="#f43939"/>
<path d="M556.2,312.9 573.9,294.4 591.7,274.9 606.1,258.5 635.9,223.8 643.3,214.9 649.9,206.4 668.7,180.5 653.3,165.7 637.8,150 621.4,132.3 605,113.5 586.7,117 569.3,120 548.3,123.3 528.2,126.3 507.6,129 488.1,131.4 469.9,133.3 453.4,134.8 430.7,171.6 409.9,204.6 427.4,223.3 436.2,232.2 445,240.1 454.7,247.8 490.8,273.6 500.9,280.6 510.1,286.7 521.4,293.7 532.8,300.5 544.5,306.9 556.2,312.9Z" fill="#f43c3c"/>
<path d="M556.2,312.9 573.9,294.4 591.7,274.9 606.1,258.5 635.9,223.8 643.3,214.9 649.9,206.4 668.7,180.5 655.9,168.3 642.1,154.5 629.2,140.8 615.4,125.6 596.2,129.5 576.1,133.1 553.7,136.7 529,140.3 504.9,143.3 483.5,145.7 465,147.4 444.9,148.7 427.2,177.2 409.9,204.6 427.4,223.3 436.2,232.2 445,240.1 454.7,247.8 490.8,273.6 500.9,280.6 510.1,286.7 521.4,293.7 532.8,300.5 544.5,306.9 556.2,312.9Z" fill="#f44040"/>
<path d="M556.2,312.9 573.9,294.4 591.7,274.9 606.1,258.5 635.9,223.8 643.3,214.9 649.9,206.4 668.7,180.5 658.4,170.8 648.2,160.6 637.8,150 626.9,138.3 605.4,143.1 584.2,147.1 559,151.2 532.6,154.9 503.4,158.4 479.9,160.7 457.6,162.2 436,163 409.9,204.6 427.4,223.3 436.2,232.2 445,240.1 454.7,247.8 490.8,273.6 500.9,280.6 510.1,286.7 521.4,293.7 532.8,300.5 544.5,306.9 556.2,312.9Z" fill="#f34343"/>
<path d="M556.2,312.9 573.9,294.4 591.7,274.9 606.1,258.5 635.9,223.8 643.3,214.9 649.9,206.4 668.7,180.5 654.2,166.6 639.6,151.9 626.8,155.3 616.2,157.9 605.3,160.3 594.1,162.5 569.2,166.7 539.7,170.7 505.1,174.5 475.8,176.9 464.9,177.5 452.9,177.8 440.4,178 426.8,177.8 409.9,204.6 428.3,224.3 438.8,234.7 444.1,239.4 449.4,243.7 459.2,251 494.4,276.2 510.1,286.7 525.2,296 540.6,304.8 556.2,312.9Z" fill="#f34646"/>
<path d="M556.2,312.9 573.9,294.4 591.7,274.9 606.1,258.5 635.9,223.8 643.3,214.9 649.9,206.4 668.7,180.5 654.5,166.9 642.4,170.9 631.1,174.2 620.7,177 608.5,179.7 595.8,182.2 581.1,184.6 565.9,186.8 550,188.8 531.8,190.6 513,192.1 488.2,193.7 470,194.6 457.1,194.9 444.6,194.7 431.1,194.1 417.1,193.1 409.9,204.6 430.9,227 437,233 443.2,238.6 450.3,244.4 458.3,250.4 489.8,273 505.5,283.7 518.6,292 530.9,299.4 543.5,306.3 556.2,312.9Z" fill="#f25049" stroke="#f25049" stroke-width="0.6"/>
<path d="M556.2,312.9 573.9,294.4 591.7,274.9 606.1,258.5 635.9,223.8 643.3,214.9 649.9,206.4 668.7,180.5 655.6,168 643.6,172 632.3,175.4 620.6,178.5 609.8,181 597.1,183.4 581,186.1 565.7,188.3 549.7,190.2 531.5,192 512.6,193.5 487.7,195 469.4,195.9 456.5,196.1 445.3,195.9 432.2,195.3 416.5,194.2 409.9,204.6 430.9,227 437.9,233.9 444.1,239.4 451.2,245.1 459.2,251 489.8,273 506.4,284.3 518.6,292 530.9,299.4 543.5,306.3 556.2,312.9Z" fill="#f15f4b" stroke="#f15f4b" stroke-width="0.6"/>
<path d="M556.2,312.9 573.9,294.4 591.7,274.9 606.1,258.5 635.9,223.8 643.3,214.9 649.9,206.4 668.7,180.5 656.7,169.1 643.5,173.5 632.3,176.9 620.5,180 609.7,182.5 597.1,185 582.4,187.4 567.1,189.6 551.2,191.5 532.9,193.3 514,194.7 487.2,196.3 468.9,197.1 455.9,197.3 444.7,197.1 431.5,196.4 415.8,195.2 409.9,204.6 431.8,227.9 438.8,234.7 445,240.1 451.2,245.1 460.1,251.6 490.8,273.6 506.4,284.3 518.6,292 530.9,299.4 543.5,306.3 556.2,312.9Z" fill="#ef6f4c" stroke="#ef6f4c" stroke-width="0.6"/>
<path d="M556.2,312.9 573.9,294.4 591.7,274.9 606.1,258.5 635.9,223.8 643.3,214.9 649.9,206.4 668.7,180.5 657.8,170.2 645.9,174.3 634.8,177.8 623.2,181 612.5,183.5 599.9,186 585.3,188.5 568.6,190.9 552.6,192.8 534.4,194.6 515.4,196 486.8,197.7 468.4,198.4 455.3,198.5 444,198.3 430.9,197.6 415.1,196.3 409.9,204.6 431.8,227.9 438.8,234.7 445.9,240.9 455.6,248.4 484.4,269.1 496.3,277.5 507.3,284.9 519.5,292.6 531.9,299.9 544.5,306.9 556.2,312.9Z" fill="#ee7f4e" stroke="#ee7f4e" stroke-width="0.6"/>
<path d="M556.2,312.9 568.6,300.1 580.6,287.1 592.4,274.1 604.7,260.1 639.9,219 647.9,209 656.5,197.5 668.7,180.5 659,171.3 647.2,175.4 634.8,179.4 623.2,182.5 612.5,185.1 598.5,187.8 583.8,190.3 568.5,192.4 552.5,194.3 534.2,196 515.1,197.4 488.2,198.9 467.8,199.7 456.2,199.8 443.4,199.5 430.2,198.7 414.5,197.3 409.9,204.6 424.7,220.6 432.6,228.7 439.7,235.5 446.8,241.6 456.5,249.1 485.3,269.7 497.2,278.1 507.3,284.9 519.5,292.6 531.9,299.9 544.5,306.9 556.2,312.9Z" fill="#ec8e50" stroke="#ec8e50" stroke-width="0.6"/>
<path d="M556.2,312.9 579.1,288.7 601.1,264.2 637.9,221.5 645.3,212.4 652.5,202.9 668.7,180.5 660.1,172.4 647.2,177 636.1,180.6 625.1,183.7 613.9,186.4 599.9,189.2 585.3,191.6 570,193.8 554,195.7 535.7,197.4 516.6,198.7 487.8,200.2 467.3,201 454.1,201 442.8,200.7 429.5,199.8 413.8,198.4 409.9,204.6 424.7,220.6 432.6,228.7 440.6,236.3 447.6,242.3 457.4,249.7 487.1,271 498.1,278.7 508.3,285.5 520.5,293.2 531.9,299.9 544.5,306.9 556.2,312.9Z" fill="#eb9e52" stroke="#eb9e52" stroke-width="0.6"/>
<path d="M556.2,312.9 577.6,290.3 599,266.7 636.6,223.1 643.3,214.9 649.9,206.4 668.7,180.5 661.3,173.5 649.7,177.8 637.5,181.8 626,185.1 615.3,187.7 602.9,190.3 588.4,192.8 571.6,195.2 555.6,197.1 537.3,198.8 518.1,200.1 487.4,201.6 466.8,202.3 453.6,202.3 442.2,201.9 428.8,200.9 413.1,199.4 409.9,204.6 425.6,221.5 433.5,229.6 440.6,236.3 448.5,243 457.4,249.7 487.1,271 498.1,278.7 508.3,285.5 520.5,293.2 531.9,299.9 544.5,306.9 556.2,312.9Z" fill="#e9ad54" stroke="#e9ad54" stroke-width="0.6"/>
<path d="M556.2,312.9 576.9,291.1 597.5,268.3 635.9,223.8 641.9,216.6 647.9,209 655.1,199.3 668.7,180.5 662.5,174.6 649.8,179.4 638.8,183.1 627.4,186.4 615.5,189.4 603,191.9 587,194.6 571.6,196.8 555.6,198.7 538.9,200.2 519.7,201.4 487,203 466.3,203.6 453,203.5 441.6,203.1 428.2,202.1 412.5,200.5 409.9,204.6 425.6,221.5 433.5,229.6 441.5,237.1 449.4,243.7 458.3,250.4 488,271.7 498.1,278.7 508.3,285.5 520.5,293.2 531.9,299.9 544.5,306.9 556.2,312.9Z" fill="#e8bd56" stroke="#e8bd56" stroke-width="0.6"/>
<path d="M556.2,312.9 576.1,292 596.1,270 634.5,225.4 645.9,211.6 654.5,200.2 668.7,180.5 663.7,175.8 652.2,180.2 640.2,184.4 628.9,187.8 617,190.8 603.2,193.6 588.6,196.1 573.3,198.3 557.3,200.1 540.5,201.6 521.3,202.8 486.6,204.3 465.9,204.9 452.5,204.8 441,204.3 427.5,203.2 411.8,201.6 409.9,204.6 426.5,222.4 434.4,230.5 442.3,237.9 451.2,245.1 488.9,272.3 499,279.3 509.2,286.1 521.4,293.7 532.8,300.5 544.5,306.9 556.2,312.9Z" fill="#e6cd57" stroke="#e6cd57" stroke-width="0.6"/>
<path d="M555.3,312.5 555.5,312.6 557.4,311.8 572.4,296 587.3,279.8 607.5,256.9 634.5,225.4 642.6,215.8 652.5,202.9 668.7,180.5 665,177 652.4,181.9 640.4,186.1 629.1,189.5 618.6,192.2 604.8,195.1 590.3,197.6 575,199.8 559,201.6 540.5,203.2 521.2,204.4 488.2,205.7 465.4,206.2 452,206.1 440.4,205.5 426.9,204.4 411.1,202.6 409.9,204.6 426.5,222.4 433.5,229.6 439.7,235.5 445.9,240.9 452.1,245.8 489.8,273 499.9,280 509.2,286.1 520.5,293.2 531.9,299.9 543.5,306.3 555.3,312.5Z" fill="#e5dc59" stroke="#e5dc59" stroke-width="0.6"/>
<path d="M557,310.6 559.5,309.5 573.1,295.2 586.6,280.6 606.1,258.5 640.6,218.2 651.9,203.8 668.7,180.5 666.2,178.2 655,182.7 643.1,187.1 631.9,190.6 620.2,193.6 606.5,196.6 592,199.1 576.8,201.3 560.8,203.1 542.3,204.7 522.9,205.8 486,207.1 465,207.6 451.4,207.4 439.8,206.8 426.3,205.6 410.4,203.7 409.9,204.6 426.5,222.4 434.4,230.5 439.7,235.5 445,240.1 450.3,244.4 456.5,249.1 495.3,276.8 507.3,284.9 519.5,292.6 536.7,302.6 554.1,311.9 557,310.6Z" fill="#dee45a" stroke="#dee45a" stroke-width="0.6"/>
<path d="M559.2,308.3 561.8,307.2 573.9,294.4 585.8,281.4 604.7,260.1 637.9,221.5 644.6,213.3 650.6,205.5 668.7,180.5 667.5,179.4 655.2,184.5 643.4,188.9 633.5,192 621.8,195.1 608.2,198.1 593.8,200.6 577.1,203.1 561,204.9 542.3,206.4 522.9,207.4 483.8,208.6 463.3,208.9 450.9,208.7 439.2,208 425.6,206.7 410.1,204.8 430.9,227 437.9,233.9 444.1,239.4 449.4,243.7 456.5,249.1 494.4,276.2 509.2,286.1 523.3,294.9 537.7,303.2 552.7,311.2 559.2,308.3Z" fill="#d1e35b" stroke="#d1e35b" stroke-width="0.6"/>
<path d="M561.5,305.9 564,304.8 585.1,282.2 603.3,261.8 633.9,226.2 641.9,216.6 648.6,208.2 655.8,198.4 668.5,180.7 656.6,185.8 644.9,190.3 635.1,193.5 623.6,196.7 610,199.7 595.7,202.3 580.5,204.5 564.5,206.3 546,207.9 526.5,208.9 491.1,209.9 464.1,210.3 450.9,210 439.5,209.4 427,208.1 411.4,206.2 425.6,221.5 432.6,228.7 439.7,235.5 445.9,240.9 452.1,245.8 459.2,251 488.9,272.3 503.6,282.5 515.8,290.3 527.1,297.1 539.6,304.2 551.3,310.5 561.5,305.9Z" fill="#c4e35c" stroke="#c4e35c" stroke-width="0.6"/>
<path d="M563.9,303.4 566.4,302.3 585.8,281.4 604,261 633.9,226.2 641.9,216.6 648.6,208.2 666.5,183.5 654.7,188.6 644.1,192.6 633,196.1 622.7,198.9 610.5,201.6 596.2,204.2 580.9,206.4 564.9,208.2 546.2,209.7 526.6,210.6 500.5,211.2 463.7,211.7 451.9,211.4 440.1,210.7 428.3,209.6 412.6,207.5 425.6,221.5 433.5,229.6 440.6,236.3 447.6,242.3 457.4,249.7 488.9,272.3 500.9,280.6 512.9,288.5 530.9,299.4 540.6,304.8 549.9,309.7 563.9,303.4Z" fill="#b6e35d" stroke="#b6e35d" stroke-width="0.6"/>
<path d="M566.4,300.8 568.9,299.7 586.6,280.6 604,261 633.2,227 641.3,217.4 647.9,209 664.5,186.4 652.8,191.4 643.4,194.9 632.3,198.5 622,201.2 608.3,204.1 593.7,206.6 578.3,208.7 563.6,210.2 546.5,211.5 526.7,212.3 502.3,212.8 463.3,213.1 451.5,212.8 439.6,212 427.7,210.8 413.9,208.9 426.5,222.4 434.4,230.5 441.5,237.1 449.4,243.7 459.2,251 494.4,276.2 508.3,285.5 522.4,294.3 535.7,302.1 548.4,309 566.4,300.8Z" fill="#a9e25e" stroke="#a9e25e" stroke-width="0.6"/>
<path d="M569,298.1 571.5,297 586.6,280.6 604,261 632.5,227.8 640.6,218.2 646.6,210.7 653.2,202 662.3,189.4 651,194.2 641.6,197.7 631.7,200.8 621.3,203.5 607.5,206.4 594.4,208.6 578.9,210.7 564.1,212.2 546.8,213.4 526.9,214.1 506.1,214.3 463,214.5 451,214.2 439.8,213.4 429.1,212.3 415.3,210.4 427.4,223.3 435.3,231.3 443.2,238.6 451.2,245.1 485.3,269.7 499.9,280 516.7,290.9 532.8,300.5 547,308.2 569,298.1Z" fill="#9ce25e" stroke="#9ce25e" stroke-width="0.6"/>
<path d="M571.7,295.2 574.2,294.1 591.7,274.9 609.7,254.4 634.5,225.4 641.9,216.6 649.9,206.4 660,192.7 650.5,196.7 639.8,200.6 629.9,203.6 619.4,206.3 606.9,208.8 593.7,211 579.6,212.8 564.7,214.2 547.3,215.3 529,215.8 511.9,216 462.7,215.9 450.6,215.6 440.6,214.9 429.3,213.6 416.6,211.8 429.1,225.2 437,233 445,240.1 453.8,247.1 488,271.7 504.6,283.1 514.8,289.7 524.3,295.5 533.8,301 543.5,306.3 545.4,307.4 560.1,300.4 571.7,295.2Z" fill="#90e15f" stroke="#90e15f" stroke-width="0.6"/>
<path d="M574.5,292.1 577,291 592.4,274.1 607.5,256.9 640.6,218.2 648.6,208.2 657.5,196.1 647.7,200.2 638.2,203.6 628.2,206.5 617.6,209.1 605,211.5 591.5,213.6 578.8,215.2 565.4,216.3 547.8,217.3 529.3,217.7 462.3,217.4 450.2,217 440.1,216.2 430,215.1 418,213.3 430,226.1 437.9,233.9 445.9,240.9 454.7,247.8 488.9,272.3 505.5,283.7 514.8,289.7 524.3,295.5 533.8,301 543.9,306.6 559.6,298.9 574.5,292.1Z" fill="#82e160" stroke="#82e160" stroke-width="0.6"/>
<path d="M577.6,288.8 580.1,287.7 592.4,274.1 605.4,259.3 639.2,219.8 647.2,209.9 654.8,199.7 645.1,203.7 636.7,206.6 626.6,209.5 615.9,212 604.6,214.1 592.6,216 579.8,217.5 566.3,218.6 550.3,219.3 531.7,219.6 461,218.8 449.8,218.4 440,217.6 430.4,216.5 419.4,214.9 430,226.1 437.9,233.9 445.9,240.9 454.7,247.8 488.9,272.3 504.6,283.1 513.9,289.1 523.3,294.9 532.8,300.5 542.3,305.7 560.2,296.8 577.6,288.8Z" fill="#76e161" stroke="#76e161" stroke-width="0.6"/>
<path d="M580.9,285.2 583.3,284.2 603.3,261.8 637.9,221.5 645.3,212.4 652,203.7 642.6,207.4 634.1,210.1 623.9,212.9 614.5,215 604.5,216.9 592.3,218.7 579.3,220.1 567.4,220.9 551.1,221.5 532.2,221.7 459.8,220.3 449.5,219.8 440.5,219.1 431.1,218 420.9,216.4 430.9,227 438.8,234.7 445.9,240.9 454.7,247.8 488,271.7 503.6,282.5 512.9,288.5 522.4,294.3 540.7,304.8 562,294 580.9,285.2Z" fill="#68e062" stroke="#68e062" stroke-width="0.6"/>
<path d="M584.4,281.3 586.9,280.2 600.4,265.1 636.6,223.1 643.3,214.9 648.8,207.9 640.3,211.1 631.8,213.8 621.5,216.5 611.8,218.5 601.6,220.3 590.7,221.7 580.8,222.7 568.6,223.4 554,223.9 534.9,223.8 459.5,221.8 449.1,221.2 440.9,220.6 431.4,219.4 422.4,218 431.8,227.9 439.7,235.5 446.8,241.6 455.6,248.4 488,271.7 503.6,282.5 521.4,293.7 539.1,303.9 562.4,291.7 573,286.5 584.4,281.3Z" fill="#61df68" stroke="#61df68" stroke-width="0.6"/>
<path d="M588.4,276.9 590.9,275.8 597.5,268.3 634.5,225.4 645.2,212.5 637.1,215.4 629.8,217.7 620.7,220 611,222 600.5,223.7 591,224.8 580.8,225.6 570.2,226.1 555.3,226.4 537.8,226.1 488.8,224.2 457.2,223.2 448.8,222.7 440.5,222 432.2,221 423.9,219.7 432.6,228.7 439.7,235.5 446.8,241.6 455.6,248.4 488,271.7 502.7,281.8 519.5,292.6 537.4,303 552.2,294.8 566.1,287.5 577.8,281.7 588.4,276.9Z" fill="#5ede73" stroke="#5ede73" stroke-width="0.6"/>
<path d="M593,271.7 595.5,270.6 610.4,253.6 641,217.8 633.2,220.4 625.7,222.6 617.7,224.5 609.1,226.1 599.9,227.5 591.7,228.3 583.1,228.8 572.2,229.2 558.9,229.2 540.9,228.7 489,226 454.9,224.6 440.1,223.4 425.5,221.4 433.5,229.6 440.6,236.3 447.6,242.3 456.5,249.1 488,271.7 501.8,281.2 518.6,292 535.6,302 553.6,291.8 568.3,283.8 581,277.3 593,271.7Z" fill="#5bdc7e" stroke="#5bdc7e" stroke-width="0.6"/>
<path d="M598.7,265.3 601.2,264.2 635.7,224.1 628.8,226.3 622.5,228.1 617,229.4 609.7,230.7 601.9,231.7 595.1,232.2 588,232.6 578.7,232.7 567,232.5 550.8,231.8 489.1,227.8 452.5,226 439.8,224.9 427.1,223.1 434.4,230.5 441.5,237.1 448.5,243 456.5,249.1 488,271.7 501.8,281.2 517.6,291.4 533.8,301 554.8,288.6 572.5,278.6 587.1,270.8 598.7,265.3Z" fill="#58da88" stroke="#58da88" stroke-width="0.6"/>
<path d="M607.3,255.4 609.7,254.3 627.5,233.6 620.3,235.8 616.1,236.7 611.4,237.3 606.4,237.7 600.9,237.8 587.2,237.5 559.6,235.6 491.9,229.8 449.4,227.4 439.5,226.4 428.8,224.8 436.2,232.2 442.3,237.9 449.4,243.7 457.4,249.7 488,271.7 500.9,280.6 516.7,290.9 532,300 561,282 582.2,269.1 597.3,260.5 607.3,255.4Z" fill="#55d994" stroke="#55d994" stroke-width="0.6"/>
<path d="M583.5,262.2 587.8,258.3 590.9,255.1 592.7,252.3 593,251 593,249.8 592.3,248.3 591.5,247.5 589.6,246.2 585.1,244.4 580.1,243.1 571.1,241.3 556.3,239.1 540,237 516.7,234.3 486.4,231.3 447.8,228.8 439.2,227.9 430.6,226.6 437,233 443.2,238.6 449.4,243.7 457.4,249.7 487.1,271 499.9,280 514.8,289.7 530.1,298.9 563.2,276.9 575.1,268.5 583.5,262.2Z" fill="#53d79e" stroke="#53d79e" stroke-width="0.6"/>
<path d="M568.6,267.2 572.6,263 575.2,259.3 576.1,257.2 576.3,256 576.4,254.7 576.1,253.3 574.8,251.2 572.1,249.1 567.9,247 562,245 553.3,242.8 541.6,240.6 525.6,238 509.5,235.9 495.9,234.2 483.7,233 447.7,230.4 439.4,229.5 432.4,228.5 437.9,233.9 444.1,239.4 450.3,244.4 458.3,250.4 487.1,271 499,279.3 513.9,289.1 528.1,297.7 542.4,287.8 553.2,279.9 561.7,273.3 568.6,267.2Z" fill="#50d6a9" stroke="#50d6a9" stroke-width="0.6"/>
<path d="M551,277.1 556.8,271.5 559.2,269 561.2,266.3 562.5,264.4 563.5,262.4 564.2,260.2 564.3,258.8 564.3,257.4 563.7,255.5 563.1,254.5 561.5,252.8 559.7,251.3 557.7,250.1 553.4,248.1 546.4,245.7 536.4,243.2 523.6,240.7 507.7,238.1 495.7,236.4 483.7,235 449,232.2 440.9,231.3 434.3,230.3 439.7,235.5 445.9,240.9 452.1,245.8 459.2,251 487.1,271 499,279.3 512.9,288.5 526.1,296.5 539.9,286.3 551,277.1Z" fill="#4dd4b4" stroke="#4dd4b4" stroke-width="0.6"/>
<path d="M544.2,278.1 548.8,273.1 552.1,268.5 553.2,266.4 554,264.2 554.3,263 554.4,261.1 554.2,259.6 553.8,258.3 552.8,256.5 551.9,255.4 550.2,253.8 548.3,252.5 543.1,249.8 536.2,247.2 526.4,244.5 515,242 502,239.7 491.5,238.1 481,236.7 447.9,233.7 436.2,232.3 441.5,237.1 446.8,241.6 453,246.4 460.1,251.6 487.1,271 498.1,278.7 511.1,287.3 524,295.3 536.2,285.4 544.2,278.1Z" fill="#4ad2c0" stroke="#4ad2c0" stroke-width="0.6"/>
<path d="M533.7,283.3 539,277.7 542.4,273.1 544.6,269 545.5,266.4 545.8,264.3 545.7,262.7 545.3,261.2 544.4,259.1 543.6,258 542.1,256.3 540.3,254.9 536.4,252.4 529.8,249.5 521.6,246.8 511.7,244.3 499,241.7 488.7,239.9 478.3,238.4 448.2,235.4 438.3,234.2 445,240.1 452.1,245.8 484.4,269.1 503.6,282.5 521.7,293.9 528.2,288.5 533.7,283.3Z" fill="#47d1cb" stroke="#47d1cb" stroke-width="0.6"/>
<path d="M520.5,291.6 527.1,285.1 531.7,279.8 535.2,274.8 536.6,272 537.4,269.8 537.8,268.4 538,266 537.8,264.4 537.1,262.2 535.9,260.1 534.4,258.3 530.9,255.5 527.9,253.7 524.7,252.1 518,249.5 508.4,246.6 497.3,243.9 487.1,241.9 475.6,240.1 440.5,236.2 446.8,241.6 454.7,247.8 495.3,276.8 507.3,284.9 519.4,292.5 520.5,291.6Z" fill="#46cad1" stroke="#46cad1" stroke-width="0.6"/>
<path d="M516.7,290.9 516.9,291 521,286.7 524,283.2 526.1,280.4 529.1,275.4 530,273.2 530.6,270.8 530.8,268.2 530.7,266.7 529.8,263.8 528.6,261.7 527.2,259.9 523.7,257 518.7,254.1 510.9,250.8 502.7,248.1 493,245.6 483,243.5 472.9,241.9 442.8,238.3 448.5,243 454.7,247.8 487.1,271 502.7,281.8 516.7,290.9Z" fill="#46bed4" stroke="#46bed4" stroke-width="0.6"/>
<path d="M513.9,289.1 514.3,289.3 515.8,287.6 518.7,283.9 520.6,281 522.8,276.8 523.6,274.5 524.1,272.1 524.1,268.8 523.8,267.4 522.9,265 521.7,263 520.2,261.2 516.7,258.3 511.7,255.3 505.2,252.4 497.2,249.6 488.8,247.3 480.2,245.3 471.5,243.8 445.3,240.4 455.6,248.4 488,271.7 500.9,280.6 513.9,289.1Z" fill="#46b3d6" stroke="#46b3d6" stroke-width="0.6"/>
<path d="M511.1,287.3 511.5,287.5 512.8,285.6 514.7,282.7 516.2,279.8 517.5,276.1 517.8,274.5 518,272.2 517.9,270.7 517.3,268.1 515.7,264.9 513.4,262.2 509.9,259.3 505,256.4 499.6,253.9 492.8,251.4 485.8,249.2 477.4,247.2 470,245.7 461.3,244.3 447.9,242.5 457.4,249.7 488,271.7 499.9,280 511.1,287.3Z" fill="#46a7d8" stroke="#46a7d8" stroke-width="0.6"/>
<path d="M508.3,285.5 508.9,284.5 510.5,281.3 511.7,277.9 512.1,274.2 511.8,271.1 511,268.6 509.2,265.5 506.9,263 503.3,260.2 499.4,257.8 494.1,255.2 488.6,253.1 481.7,250.8 475.8,249.3 468.5,247.7 461.2,246.4 450.9,244.9 458.3,250.4 488.9,272.3 508.3,285.5Z" fill="#469bdb" stroke="#469bdb" stroke-width="0.6"/>
<path d="M504.6,283.1 504.9,283.3 505.4,282.1 506.1,279.8 506.5,277.4 506.5,274 505.9,271.3 504.8,268.8 502.9,266.1 500.5,263.6 497.8,261.5 494,259.1 489.8,257 485.5,255.1 479.9,253.1 474.1,251.4 468.2,250 454.2,247.3 488,271.7 504.6,283.1Z" fill="#468fdd" stroke="#468fdd" stroke-width="0.6"/>
<path d="M500.9,280.6 501.2,279.4 501.3,276.5 500.8,273.8 500,271.3 498.6,268.9 496.7,266.5 495.1,264.9 492.4,262.8 489.6,260.9 485.6,258.7 478.1,255.5 469,252.6 458,250.1 488,271.7 500.9,280.6Z" fill="#4683e0" stroke="#4683e0" stroke-width="0.6"/>
<path d="M495.3,276.8 496.1,277.4 495.6,274.8 494.7,272.4 493.5,270.3 492.2,268.4 490.6,266.8 487.2,263.9 482.4,260.9 476.2,257.9 469.6,255.5 462.7,253.5 495.3,276.8Z" fill="#4677e2" stroke="#4677e2" stroke-width="0.6"/>
<path d="M488.9,272.3 489.2,272.5 488.4,271.2 486.2,268.6 484.6,267 482,264.9 479.2,263 476.3,261.4 469.4,258.3 488.9,272.3Z" fill="#466ce4" stroke="#466ce4" stroke-width="0.6"/>
<path d="M556.2,312.9 544.5,306.9 532.8,300.5 521.4,293.7 510.1,286.7 491.7,274.3 455.6,248.4 445,240.1 437.9,233.9 427.4,223.3 409.9,204.6M556.2,312.9 574.6,293.6 592.4,274.1 606.8,257.7 634.5,225.4 642.6,215.8 647.9,209 655.8,198.4 668.7,180.5M557.6,311.5 545.8,305.4 534.2,299 522.8,292.2 511.5,285.1 493,272.6 457,246.6 446.3,238.2 439.2,231.9 428.7,221.4 411.1,202.6M554.5,312.1 572.9,292.6 590.7,273 605.1,256.6 632.9,224.2 641,214.4 646.3,207.7 654.2,197.1 667.2,179M559,310.1 547.2,303.9 535.6,297.5 524.2,290.7 512.9,283.5 494.4,271 458.3,244.7 447.6,236.3 437,226.6 429.9,219.4 412.3,200.7M552.7,311.2 571.1,291.7 589,272 603.4,255.5 631.2,222.9 639.3,213.1 644.7,206.3 652.6,195.7 665.7,177.6M560.4,308.7 548.6,302.5 537,295.9 525.6,289.1 514.3,282 495.8,269.3 459.6,242.9 448.9,234.4 438.3,224.6 431.2,217.5 413.5,198.8M551,310.3 569.4,290.7 587.2,270.9 601.7,254.3 629.6,221.6 637.7,211.7 643.1,204.9 651.1,194.3 664.2,176.2M561.8,307.2 550,301 538.4,294.4 527,287.6 515.7,280.4 497.2,267.7 464.5,243.7 453.8,235.4 443.1,226.1 432.5,215.6 414.8,196.9M549.2,309.4 567.7,289.7 585.5,269.9 600,253.2 627.9,220.3 636.1,210.4 641.5,203.5 649.5,192.9 662.6,174.8M563.1,305.8 551.4,299.5 539.8,292.9 528.3,286 517,278.8 498.5,266 465.9,241.9 455.1,233.5 444.4,224.1 433.7,213.6 416,194.9M547.5,308.5 565.9,288.7 583.8,268.8 598.3,252.1 626.3,219 639.9,202.2 647.9,191.5 661.1,173.3M564.5,304.4 552.7,298 541.1,291.4 529.7,284.5 518.4,277.2 507.3,269.6 496.2,261.7 467.2,240 456.4,231.6 445.7,222.2 435,211.7 417.2,193M545.8,307.6 564.2,287.7 582.1,267.7 596.6,250.9 621.9,221 630.1,211 638.3,200.8 659.6,171.9M565.9,302.9 554.1,296.6 542.5,289.9 531.1,282.9 519.8,275.6 501.3,262.7 472.1,241 457.8,229.7 447,220.3 436.3,209.7 418.5,191M544,306.6 562.5,286.7 580.4,266.7 594.9,249.8 620.3,219.7 628.5,209.7 636.7,199.4 658.1,170.4M567.2,301.5 559.4,297.3 547.7,290.7 536.2,283.7 524.9,276.5 513.7,268.9 502.6,261 477.1,241.9 466.3,233.6 459.1,227.8 448.3,218.3 437.6,207.8 419.7,189.1M542.3,305.7 560.8,285.7 578.7,265.6 593.2,248.6 618.6,218.4 626.9,208.3 635.1,197.9 656.5,168.9M568.6,300.1 560.7,295.8 549.1,289.2 537.6,282.2 526.3,274.9 507.7,262.1 482,242.9 464,228.9 453.2,219.7 442.4,209.4 420.9,187.1M540.6,304.8 556,288.1 574,267.9 591.5,247.5 614.2,220.4 625.3,206.9 633.5,196.5 655,167.4M569.9,298.6 562.1,294.3 550.4,287.7 539,280.7 527.6,273.3 509,260.4 487,243.9 465.3,227 454.5,217.7 443.7,207.5 422.2,185.2M538.8,303.8 554.3,287.1 572.3,266.8 589.8,246.3 609.7,222.5 623.7,205.6 631.9,195.1 653.5,165.9M571.3,297.2 563.4,292.9 551.8,286.2 540.3,279.1 529,271.8 510.4,258.8 488.4,242.2 466.6,225.1 455.8,215.8 448.6,209.1 441.4,201.9 423.4,183.2M537.1,302.9 552.6,286 567.6,269.1 582.4,252 602.5,228 619.3,207.6 627.6,197.2 635.8,186.5 652,164.4M572.6,295.7 564.8,291.4 553.2,284.7 541.7,277.6 530.4,270.2 511.7,257.1 489.7,240.5 471.6,226.2 464.3,220.2 457.1,213.9 449.9,207.1 442.7,199.9 424.6,181.2M535.4,301.9 550.9,285 565.9,268 580.7,250.8 597.9,230.2 614.9,209.6 625.9,195.8 634.2,185 650.4,162.9M574,294.3 566.1,289.9 554.5,283.2 535.5,271.1 516.8,258.2 494.7,241.5 472.9,224.3 465.6,218.3 458.4,211.9 451.2,205.1 444,198 425.9,179.3M533.7,300.9 549.2,284 564.2,266.9 579,249.7 596.3,228.9 613.2,208.3 624.3,194.4 632.6,183.5 648.9,161.4M575.3,292.9 567.5,288.5 555.9,281.6 536.8,269.5 518.1,256.5 507.1,248.3 496,239.8 474.2,222.5 466.9,216.4 459.7,210 452.5,203.2 445.2,196 427.1,177.3M532,300 547.4,283 562.5,265.8 577.3,248.5 594.6,227.6 611.6,206.9 622.7,192.9 631,182 647.4,159.9M576.6,291.4 568.8,287 557.2,280.1 538.2,268 519.5,254.9 508.4,246.6 497.4,238.1 475.5,220.6 468.3,214.5 461,208.1 453.8,201.2 446.5,194.1 428.3,175.3M530.3,299 545.7,281.9 560.8,264.7 575.6,247.3 590.1,229.9 610,205.5 621.1,191.5 629.4,180.6 645.9,158.3M578,290 570.2,285.5 558.5,278.6 539.5,266.4 520.8,253.2 509.7,244.9 498.7,236.4 476.8,218.8 469.6,212.6 462.3,206.1 455,199.3 447.8,192.1 429.6,173.3M528.6,298 544.1,280.9 559.2,263.6 573.9,246.1 588.4,228.6 608.3,204.2 619.5,190 627.9,179.1 644.3,156.7M579.3,288.5 571.5,284.1 559.9,277.1 540.9,264.8 522.2,251.6 511.1,243.2 500.1,234.6 478.2,216.9 463.6,204.2 449.1,190.1 430.8,171.3M526.9,297 542.4,279.8 557.5,262.4 572.3,244.9 586.8,227.3 606.7,202.8 617.9,188.6 626.3,177.6 642.8,155.2M580.6,287.1 572.8,282.6 561.2,275.6 542.2,263.2 523.5,249.9 505.1,235.8 479.5,215 464.9,202.3 450.3,188.2 432.1,169.4M525.2,296 540.7,278.7 555.8,261.3 570.6,243.7 585.1,226.1 605.1,201.4 616.3,187.1 627.5,172.3 641.3,153.6M582,285.6 574.1,281.1 562.6,274.1 543.6,261.7 524.9,248.3 506.4,234.1 480.8,213.2 466.2,200.3 451.6,186.2 433.3,167.4M523.5,295 539,277.7 554.1,260.2 568.9,242.5 583.5,224.8 603.5,200 614.7,185.6 639.8,152M583.3,284.2 575.5,279.7 563.9,272.6 544.9,260.1 526.2,246.6 507.7,232.3 482.1,211.3 467.5,198.4 452.9,184.2 434.6,165.4M521.8,294 537.3,276.6 552.4,259 567.2,241.3 581.8,223.5 601.8,198.5 613.1,184.1 638.2,150.4M584.6,282.8 576.8,278.2 565.2,271.1 546.2,258.5 527.5,245 509.1,230.6 487.1,212.6 472.5,199.8 457.8,185.9 435.8,163.3M520.2,293 532.6,279 547.7,261.4 562.6,243.7 577.3,225.8 608.7,186.3 620,171.5 636.7,148.8M585.9,281.3 578.1,276.7 566.5,269.6 547.6,256.9 528.9,243.3 510.4,228.9 488.4,210.7 473.8,197.9 459.1,183.9 437.1,161.3M518.5,292 530.9,277.9 546.1,260.3 561,242.4 575.6,224.5 607.1,184.8 618.4,169.9 635.2,147.2M587.2,279.9 579.4,275.2 567.9,268.1 548.9,255.3 530.2,241.7 511.7,227.2 489.7,208.9 475.1,196 460.4,182 438.3,159.3M516.8,290.9 529.2,276.8 544.4,259.1 559.3,241.2 573.9,223.2 605.5,183.3 616.8,168.4 633.6,145.6M588.5,278.4 580.7,273.8 569.2,266.5 550.2,253.7 531.5,240 513.1,225.4 491,207 476.4,194.1 461.7,180 439.6,157.3M515.1,289.9 527.5,275.7 542.7,257.9 557.6,240 572.3,221.9 603.9,181.8 615.2,166.8 632.1,143.9M589.8,277 582,272.3 570.5,265 551.5,252.2 532.9,238.4 514.4,223.7 492.4,205.2 477.7,192.1 463,178 440.8,155.3M513.5,288.8 525.9,274.6 541,256.8 556,238.7 570.6,220.6 602.3,180.3 613.7,165.3 630.6,142.3M591.1,275.5 583.4,270.8 571.8,263.5 552.9,250.6 534.2,236.7 515.7,222 493.7,203.3 479,190.2 464.3,176 442.1,153.2M511.8,287.8 524.2,273.5 539.4,255.6 554.3,237.5 569,219.2 600.7,178.8 612.1,163.7 629,140.6M592.4,274.1 584.7,269.3 573.1,262 554.2,249 535.5,235.1 517,220.2 495,201.5 480.3,188.3 465.6,174.1 443.3,151.2M510.1,286.7 522.5,272.4 537.7,254.4 552.6,236.2 567.3,217.9 599.1,177.3 610.5,162.1 627.5,139M593.7,272.6 586,267.9 574.4,260.5 555.5,247.4 536.9,233.4 518.4,218.5 496.3,199.6 481.6,186.4 466.9,172.1 444.6,149.2M508.5,285.6 520.9,271.3 536.1,253.2 551,235 565.7,216.6 597.5,175.7 608.9,160.5 626,137.3M595,271.2 587.3,266.4 575.8,258.9 556.8,245.8 538.2,231.7 519.7,216.8 501.3,201 482.9,184.4 468.2,170.1 445.9,147.1M506.8,284.6 519.2,270.2 534.4,252 549.3,233.7 564.1,215.2 595.9,174.2 624.4,135.6M596.3,269.7 588.6,264.9 577.1,257.4 558.2,244.2 539.5,230.1 521,215 502.6,199.2 484.2,182.5 469.4,168.1 447.1,145.1M505.2,283.5 517.5,269 532.7,250.8 547.7,232.4 562.4,213.9 594.3,172.7 622.9,133.9M597.6,268.2 589.8,263.4 578.4,255.9 559.5,242.6 540.8,228.4 522.3,213.3 503.9,197.4 485.5,180.6 470.7,166.1 448.4,143M503.5,282.4 515.9,267.9 531.1,249.6 546,231.1 560.8,212.5 592.7,171.1 621.3,132.2M598.9,266.8 591.1,261.9 579.7,254.4 560.8,241 542.1,226.7 523.7,211.5 505.2,195.5 486.8,178.6 472,164.2 449.6,141M501.9,281.3 514.2,266.7 529.4,248.4 544.4,229.8 559.1,211.1 591.1,169.5 619.8,130.5M600.1,265.3 584.8,255.4 565.8,242.2 547.2,228 528.7,212.9 506.6,193.7 488.1,176.7 473.3,162.2 450.9,138.9M500.2,280.2 512.6,265.6 527.8,247.2 542.7,228.5 557.5,209.8 589.5,168 618.2,128.7M601.4,263.9 586.1,253.9 567.1,240.6 548.5,226.4 530,211.2 507.9,191.9 489.4,174.8 474.6,160.2 452.2,136.8M498.6,279.1 510.9,264.4 526.1,245.9 541.1,227.2 555.8,208.4 587.9,166.4 616.7,127M602.7,262.4 587.3,252.4 568.5,239 549.8,224.7 531.3,209.4 509.2,190 490.7,172.8 472.2,154.4 453.5,134.8M497,277.9 509.3,263.2 524.5,244.7 539.4,225.9 554.2,207 586.3,164.8 615.1,125.3M604,261 588.6,250.9 569.8,237.4 551.1,223 532.6,207.7 510.5,188.2 492.1,170.9 473.5,152.4 454.7,132.7M495.3,276.8 507.7,262.1 522.8,243.4 549.6,209.4 581.8,167.1 613.6,123.5M605.2,259.5 589.9,249.4 571.1,235.9 552.4,221.4 533.9,206 511.8,186.3 493.4,169 474.8,150.3 456,130.6M493.7,275.7 506,260.9 521.2,242.2 548,208 580.1,165.5 612.1,121.7M606.5,258 591.2,247.9 572.4,234.3 553.7,219.7 535.3,204.2 513.1,184.5 494.7,167 476.1,148.3 457.3,128.5M492.1,274.6 504.4,259.7 519.5,240.9 546.3,206.6 578.5,163.9 610.5,119.9M607.8,256.6 592.5,246.3 573.7,232.7 555,218.1 536.6,202.5 514.5,182.6 496,165.1 477.4,146.3 458.6,126.4M490.4,273.4 502.7,258.5 517.9,239.6 544.7,205.2 576.9,162.3 608.9,118.2M609,255.1 593.8,244.8 574.9,231.1 556.4,216.4 537.9,200.8 515.8,180.8 497.3,163.1 478.7,144.3 459.8,124.3M488.8,272.3 501.1,257.3 516.3,238.4 543.1,203.8 575.3,160.7 607.4,116.4M610.3,253.7 595,243.3 576.2,229.5 557.7,214.7 539.2,199 517.1,179 498.6,161.2 480,142.3 461.1,122.2M487.2,271.1 499.5,256.1 514.6,237.1 541.4,202.4 573.7,159.1 605.8,114.5M611.5,252.2 596.3,241.8 577.5,227.9 559,213.1 540.5,197.3 518.4,177.1 499.9,159.3 481.3,140.2 462.4,120.1M485.6,270 497.9,254.9 513,235.8 539.8,201 572.1,157.5 604.3,112.7M612.8,250.8 597.6,240.3 578.8,226.3 560.3,211.4 541.8,195.5 519.7,175.2 501.2,157.3 482.6,138.2 463.7,118M484,268.8 496.2,253.7 511.3,234.5 538.1,199.5 570.5,155.9 602.7,110.9M614,249.3 598.8,238.8 580.1,224.7 561.6,209.7 543.1,193.8 521,173.4 502.5,155.4 483.9,136.2 465,115.9M482.4,267.6 494.6,252.4 509.7,233.2 536.5,198.1 568.9,154.2 601.2,109.1M615.3,247.8 600.1,237.3 581.4,223.2 562.9,208.1 544.4,192 522.3,171.5 503.8,153.4 485.2,134.1 466.3,113.8M480.7,266.5 493,251.2 508.1,231.9 534.9,196.6 567.2,152.6 599.6,107.2M616.5,246.4 601.4,235.8 582.7,221.6 564.2,206.4 545.8,190.3 523.7,169.7 505.2,151.4 486.5,132.1 467.6,111.6M479.1,265.3 506.4,230.6 533.2,195.2 565.6,150.9 598,105.3M617.8,245 602.6,234.2 584,220 565.5,204.7 547.1,188.5 525,167.8 506.5,149.5 487.8,130 468.8,109.5M477.5,264.2 504.8,229.3 531.6,193.7 564,149.3 596.5,103.5M619,243.5 603.9,232.7 585.2,218.4 566.8,203.1 548.4,186.8 530,169.5 511.5,151.3 492.8,132 470.1,107.4M475.9,263 503.2,228 529.9,192.3 562.4,147.6 594.9,101.6M620.2,242.1 605.1,231.2 586.5,216.8 568.1,201.4 549.7,185 531.3,167.7 512.8,149.4 494.2,130 471.4,105.2M474.3,261.8 501.5,226.7 528.3,190.8 560.8,145.9 593.3,99.7M621.5,240.6 606.4,229.7 587.8,215.2 569.4,199.7 551,183.3 532.6,165.8 514.1,147.4 495.5,127.9 472.7,103.1M472.7,260.7 499.9,225.3 526.7,189.3 559.1,144.2 591.7,97.8M622.7,239.2 607.7,228.2 589.1,213.6 570.7,198.1 552.3,181.5 533.9,164 515.4,145.5 496.8,125.9 474,100.9M471.1,259.5 498.3,224 525,187.8 557.5,142.5 590.2,95.9M623.9,237.8 608.9,226.7 590.4,212 571.9,196.4 553.6,179.7 535.2,162.1 516.8,143.5 498.1,123.8 475.3,98.8M469.5,258.4 496.7,222.7 523.4,186.3 555.9,140.8 588.6,94M625.1,236.4 610.2,225.2 591.6,210.5 573.2,194.7 554.9,178 536.5,160.3 518.1,141.6 499.4,121.8 476.6,96.6M467.9,257.3 495,221.3 521.8,184.8 554.3,139.1 587,92M626.4,234.9 611.4,223.7 592.9,208.9 574.5,193 556.2,176.2 537.9,158.4 519.4,139.6 500.7,119.7 478,94.4M466.3,256.1 493.4,220 523.1,179.2 552.7,137.4 585.4,90.1M627.6,233.5 612.6,222.3 594.2,207.3 575.8,191.4 557.5,174.5 539.2,156.6 520.7,137.7 502,117.7 479.3,92.3M464.7,255 491.8,218.7 521.4,177.6 551,135.7 583.8,88.1M628.8,232.1 613.9,220.8 595.4,205.7 577.1,189.7 558.8,172.7 540.5,154.7 522,135.7 503.4,115.6 480.6,90.1M463.2,253.8 490.1,217.3 519.8,176.1 549.4,133.9 582.3,86.2M630,230.7 615.1,219.3 596.7,204.1 578.4,188 560.1,170.9 541.8,152.8 523.3,133.7 504.7,113.6 481.9,87.9M461.6,252.7 488.5,216 518.2,174.5 547.8,132.2 580.7,84.2M631.2,229.3 616.4,217.8 598,202.5 579.7,186.3 561.4,169.2 543.1,151 524.7,131.8 506,111.5 483.2,85.7M460,251.6 486.9,214.6 516.5,173 546.1,130.4 579.1,82.2M632.4,227.9 617.6,216.3 599.2,201 581,184.7 562.7,167.4 544.4,149.1 526,129.8 507.3,109.4 484.5,83.5M458.4,250.4 485.3,213.3 514.9,171.4 544.5,128.7 577.5,80.2M633.6,226.5 618.8,214.8 600.5,199.4 582.3,183 564,165.6 545.7,147.2 527.3,127.8 508.6,107.4 485.8,81.3M456.8,249.3 483.7,211.9 513.2,169.9 542.9,126.9 575.9,78.2M634.8,225.1 620.1,213.3 601.8,197.8 583.5,181.3 565.3,163.8 547.1,145.4 528.6,125.9 510,105.3 487.2,79.1M455.2,248.1 485,206.3 514.5,164 544.2,120.7 574.3,76.2M636,223.7 621.3,211.8 603,196.2 584.8,179.6 566.6,162.1 548.4,143.5 530,123.9 511.3,103.2 488.5,76.9M453.6,246.9 483.4,204.9 512.9,162.4 542.6,118.9 572.7,74.1M637.2,222.3 622.5,210.3 604.3,194.6 586.1,177.9 567.9,160.3 549.7,141.6 531.3,121.9 512.6,101.1 489.8,74.7M452.1,245.8 481.7,203.5 511.3,160.8 540.9,117.1 571.1,72.1M638.4,220.8 623.7,208.8 605.5,193 587.4,176.2 569.2,158.5 551,139.7 532.6,119.9 514,99.1 491.1,72.5M450.5,244.5 480.1,202.1 509.6,159.2 539.3,115.3 569.5,70.1M639.6,219.4 625,207.3 606.8,191.4 588.7,174.6 570.5,156.7 552.3,137.9 533.9,118 515.3,97 492.5,70.3M448.9,243.3 481.4,196.3 510.9,153.2 537.7,113.5 567.9,68M640.8,218 626.2,205.8 608,189.8 590,172.9 571.9,154.9 553.6,136 535.3,116 516.6,94.9 493.8,68.1M447.3,242.1 479.8,194.9 509.3,151.5 536,111.6 566.2,65.9M642,216.5 627.4,204.3 609.3,188.2 591.2,171.2 573.2,153.2 555,134.1 536.6,114 518,92.8 495.1,65.8M445.8,240.8 481.1,189 507.6,149.8 534.4,109.8 564.6,63.8M643.2,215 628.6,202.8 610.6,186.6 592.5,169.5 574.5,151.4 556.3,132.2 537.9,112 519.3,90.7 496.5,63.6M444.2,239.5 479.5,187.5 506,148.2 532.7,107.9 563,61.8M644.4,213.6 629.8,201.2 611.8,185 593.8,167.8 575.8,149.6 557.6,130.3 539.2,110 520.6,88.6 497.8,61.4M442.6,238.1 504.3,146.5 531.1,106 561.4,59.7M645.6,212.1 631.1,199.7 613.1,183.3 595.1,166.1 577.1,147.8 558.9,128.4 540.6,108 522,86.5 499.2,59.1M441.1,236.7 479.1,180.1 505.6,140.3 532.4,99.6 559.8,57.5M646.7,210.5 632.3,198.1 614.3,181.7 596.4,164.3 578.4,146 560.2,126.5 541.9,106 523.3,84.4 500.5,56.9M439.5,235.3 477.5,178.5 504,138.6 530.8,97.7 558.1,55.4M647.9,209 633.5,196.5 615.5,180.1 597.6,162.6 579.7,144.2 561.6,124.6 543.2,104 524.6,82.3 501.9,54.6M437.9,233.9 475.9,176.9 502.3,136.9 529.1,95.7 556.5,53.3M649.1,207.5 634.7,194.9 616.8,178.4 598.9,160.9 581,142.4 562.9,122.7 544.6,102 526,80.1 503.2,52.3M436.4,232.4 497.7,139.6 524.4,98.5 554.9,51.1M650.3,205.9 635.9,193.4 618,176.8 600.2,159.2 582.3,140.6 564.2,120.8 545.9,100 527.3,78 504.6,50.1M434.8,230.9 496,137.9 522.8,96.6 553.2,49M651.4,204.4 637.1,191.8 619.3,175.1 601.5,157.5 583.6,138.8 565.5,118.9 547.2,98 528.7,75.9 505.9,47.8M433.2,229.3 468,176.5 494.4,136.1 521.1,94.6 551.6,46.8M652.6,202.8 638.3,190.2 620.5,173.5 602.7,155.7 584.9,136.9 566.8,117 548.6,96 530,73.8 507.3,45.5M431.7,227.8 463.5,179.3 492.7,134.4 519.5,92.7 549.9,44.7M653.8,201.2 639.5,188.5 621.8,171.8 604,154 586.2,135.1 568.2,115.1 549.9,94 531.4,71.6 508.6,43.2M430.1,226.2 461.9,177.7 491,132.6 517.8,90.8 548.3,42.5M654.9,199.6 640.7,186.9 623,170.1 605.3,152.3 587.5,133.3 569.5,113.2 551.3,91.9 532.7,69.5 510,41M428.5,224.6 460.2,176.1 486.4,135.4 516.1,88.8 546.6,40.3M656.1,198 641.9,185.3 624.3,168.5 606.6,150.5 588.8,131.5 570.8,111.3 552.6,89.9 534.1,67.4 511.4,38.7M427,222.9 455.7,178.9 484.8,133.7 514.4,86.9 545,38.1M657.2,196.4 643.1,183.7 625.5,166.8 607.8,148.8 590.1,129.7 572.1,109.4 553.9,87.9 535.4,65.2 512.7,36.4M425.4,221.3 454.1,177.2 483.1,131.9 509.8,89.7 543.3,35.9M658.4,194.8 644.3,182.1 626.7,165.1 609.1,147.1 591.4,127.8 573.5,107.5 555.3,85.9 536.8,63.1 514.1,34.1M423.9,219.6 452.4,175.6 478.5,134.7 508.1,87.7 541.7,33.6M659.6,193.2 645.5,180.4 628,163.4 610.4,145.3 592.7,126 574.8,105.5 556.6,83.8 538.2,60.9 515.5,31.8M422.3,218 450.8,173.9 476.8,133 506.4,85.8 540,31.4M660.7,191.6 646.7,178.8 629.2,161.8 611.7,143.6 594,124.2 576.1,103.6 558,81.8 539.5,58.8 516.9,29.4M420.8,216.3 446.3,176.7 475.1,131.2 504.7,83.8 538.3,29.1M661.9,190 647.9,177.2 630.4,160.1 612.9,141.8 595.3,122.4 577.4,101.7 559.3,79.8 540.9,56.6 518.2,27.1M419.2,214.6 444.7,175 473.5,129.4 503,81.8 536.7,26.9M663,188.4 649.1,175.5 631.7,158.4 614.2,140.1 596.6,120.5 578.8,99.8 560.7,77.7 542.3,54.4 519.6,24.8M417.6,212.9 443,173.3 471.8,127.6 501.3,79.8 535,24.6M664.2,186.8 650.3,173.9 632.9,156.7 615.5,138.3 597.9,118.7 580.1,97.8 562,75.7 543.6,52.3 521,22.5M416.1,211.2 441.4,171.6 470.1,125.8 499.6,77.8 533.3,22.3M665.3,185.2 651.5,172.3 634.1,155 616.7,136.6 599.2,116.9 581.4,95.9 563.4,73.6 545,50.1 522.4,20.1M414.5,209.6 439.8,169.9 465.5,128.7 494.9,80.7 531.6,20M666.4,183.6 652.7,170.7 635.4,153.4 618,134.8 600.5,115 582.8,94 564.7,71.6 546.4,47.9 523.8,17.8M413,207.9 438.1,168.3 463.8,126.9 493.2,78.7 530,17.7M667.6,182 653.8,169.1 636.6,151.7 619.3,133.1 601.8,113.2 584.1,92 566.1,69.5 547.7,45.7 525.2,15.5M411.4,206.2 436.5,166.6 462.2,125.1 491.5,76.7 528.3,15.4M668.7,180.5 655,167.4 637.8,150 620.6,131.3 603.1,111.4 585.4,90.1 567.4,67.5 549.1,43.6 526.6,13.1M409.9,204.6 434.9,164.9 460.5,123.3 489.8,74.7 526.6,13.1" fill="none" stroke="#000" stroke-opacity="0.5" stroke-width="0.8"/>
<ellipse cx="409.6" cy="204.6" rx="2.4" ry="2.6" fill="#c80000" stroke="#5a0000" stroke-width="0.7"/>
<ellipse cx="480.7" cy="265.0" rx="2.4" ry="2.6" fill="#c80000" stroke="#5a0000" stroke-width="0.7"/>
<ellipse cx="517.0" cy="289.8" rx="2.4" ry="2.6" fill="#c80000" stroke="#5a0000" stroke-width="0.7"/>
<ellipse cx="548.0" cy="256.8" rx="2.4" ry="2.6" fill="#c80000" stroke="#5a0000" stroke-width="0.7"/>
<ellipse cx="586.0" cy="281.5" rx="2.4" ry="2.6" fill="#c80000" stroke="#5a0000" stroke-width="0.7"/>
<ellipse cx="615.4" cy="248.8" rx="2.4" ry="2.6" fill="#c80000" stroke="#5a0000" stroke-width="0.7"/>
<ellipse cx="668.5" cy="182.0" rx="2.4" ry="2.6" fill="#c80000" stroke="#5a0000" stroke-width="0.7"/>
<circle cx="452.0" cy="289.6" r="1" fill="#111"/>
<circle cx="486.5" cy="316.4" r="1" fill="#111"/>
<circle cx="520.4" cy="343.3" r="1" fill="#111"/>
<circle cx="581.7" cy="336.3" r="1" fill="#111"/>
<circle cx="608.2" cy="304.0" r="1" fill="#111"/>
<circle cx="634.8" cy="270.8" r="1" fill="#111"/>
<circle cx="417.5" cy="263.8" r="1" fill="#111"/>
<circle cx="661.6" cy="239.3" r="1" fill="#111"/>
<circle cx="555.7" cy="369.7" r="1" fill="#111"/>
<text x="381.0" y="117.4" font-size="11.5" fill="#2a2a30" stroke="#2a2a30" stroke-width="0.25" textLength="12.8" lengthAdjust="spacingAndGlyphs">0.4</text>
<text x="384.7" y="145.0" font-size="11.5" fill="#2a2a30" stroke="#2a2a30" stroke-width="0.25" textLength="12.8" lengthAdjust="spacingAndGlyphs">0.3</text>
<text x="388.2" y="173.6" font-size="11.5" fill="#2a2a30" stroke="#2a2a30" stroke-width="0.25" textLength="12.5" lengthAdjust="spacingAndGlyphs">0.2</text>
<text x="391.7" y="201.2" font-size="11.5" fill="#2a2a30" stroke="#2a2a30" stroke-width="0.25" textLength="11.5" lengthAdjust="spacingAndGlyphs">0.1</text>
<text x="402.7" y="230.0" font-size="11.5" fill="#2a2a30" stroke="#2a2a30" stroke-width="0.25" textLength="5.6" lengthAdjust="spacingAndGlyphs">0</text>
<text x="401.2" y="273.6" font-size="12" fill="#2a2a30" stroke="#2a2a30" stroke-width="0.25" textLength="10.7" lengthAdjust="spacingAndGlyphs">20</text>
<text x="436.7" y="300.4" font-size="12" fill="#2a2a30" stroke="#2a2a30" stroke-width="0.25" textLength="9.8" lengthAdjust="spacingAndGlyphs">15</text>
<text x="471.6" y="327.6" font-size="12" fill="#2a2a30" stroke="#2a2a30" stroke-width="0.25" textLength="10.5" lengthAdjust="spacingAndGlyphs">10</text>
<text x="509.3" y="354.5" font-size="12" fill="#2a2a30" stroke="#2a2a30" stroke-width="0.25" textLength="5.8" lengthAdjust="spacingAndGlyphs">5</text>
<text x="545.2" y="380.8" font-size="12" fill="#2a2a30" stroke="#2a2a30" stroke-width="0.25" textLength="5.6" lengthAdjust="spacingAndGlyphs">0</text>
<text x="560.4" y="380.8" font-size="12" fill="#2a2a30" stroke="#2a2a30" stroke-width="0.25" textLength="5.8" lengthAdjust="spacingAndGlyphs">0</text>
<text x="585.5" y="347.5" font-size="12" fill="#2a2a30" stroke="#2a2a30" stroke-width="0.25" textLength="5.8" lengthAdjust="spacingAndGlyphs">5</text>
<text x="613.8" y="315.3" font-size="12" fill="#2a2a30" stroke="#2a2a30" stroke-width="0.25" textLength="10.2" lengthAdjust="spacingAndGlyphs">10</text>
<text x="641.1" y="282.4" font-size="12" fill="#2a2a30" stroke="#2a2a30" stroke-width="0.25" textLength="9.8" lengthAdjust="spacingAndGlyphs">15</text>
<text x="666.5" y="249.8" font-size="12" fill="#2a2a30" stroke="#2a2a30" stroke-width="0.25" textLength="10.7" lengthAdjust="spacingAndGlyphs">20</text>
<text x="415.9" y="368.4" font-size="14" fill="#1a1a1e" stroke="#1a1a1e" stroke-width="0.3" textLength="61.8" lengthAdjust="spacingAndGlyphs">B: CBA (%)</text>
<text x="627.3" y="347.0" font-size="14" fill="#1a1a1e" stroke="#1a1a1e" stroke-width="0.3" textLength="57.1" lengthAdjust="spacingAndGlyphs">A: MK (%)</text>
<text transform="translate(368.5,222.4) rotate(-90)" font-size="13.8" textLength="52.4" lengthAdjust="spacingAndGlyphs" fill="#1a1a1e" stroke="#1a1a1e" stroke-width="0.3">SAT (%)</text>
<text x="548.9" y="411.0" font-size="16" fill="#111" stroke="#111" stroke-width="0.25" class="ser">(b)</text>
</svg></body></html>
